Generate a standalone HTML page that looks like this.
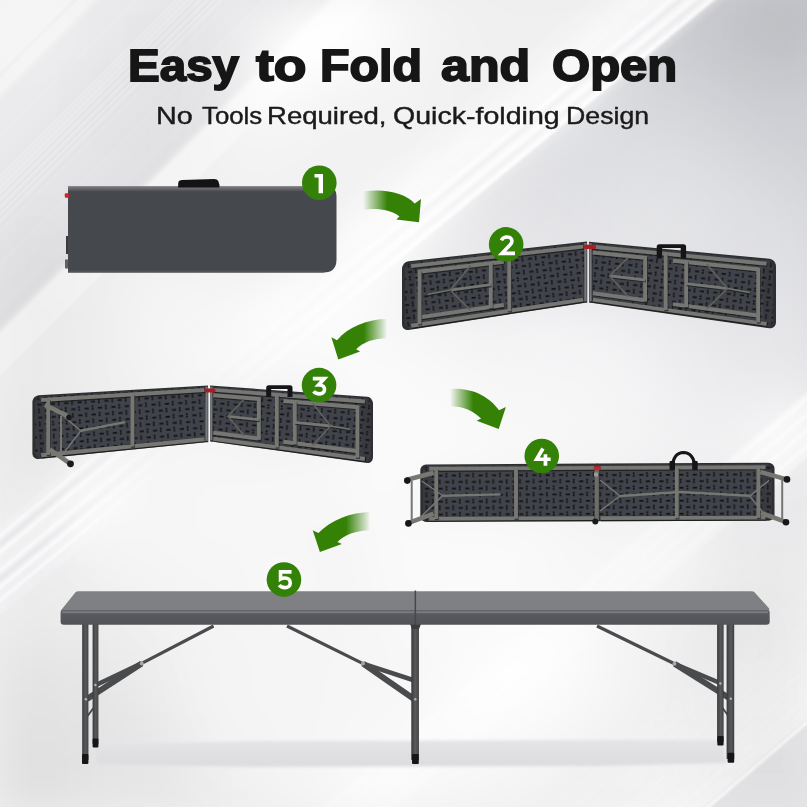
<!DOCTYPE html>
<html><head><meta charset="utf-8"><style>
html,body{margin:0;padding:0;width:807px;height:807px;overflow:hidden;background:#ececed}
svg{position:absolute;left:0;top:0}
.w{position:absolute;white-space:nowrap;font-family:"Liberation Sans",sans-serif;line-height:1;transform-origin:0 0}
.ti{font-size:44.8px;font-weight:bold;color:#161616;-webkit-text-stroke:1.8px #161616}
.dg{font-family:"Liberation Sans",sans-serif;font-weight:bold;font-size:27px;fill:#fff}
.su{font-size:23.4px;color:#1a1a1a;-webkit-text-stroke:0.4px #1a1a1a}
</style></head><body>
<svg width="807" height="807" viewBox="0 0 807 807">
<defs>
<linearGradient id="bg" x1="807" y1="0" x2="0" y2="807" gradientUnits="userSpaceOnUse">
<stop offset="0" stop-color="#cfd0d4"/>
<stop offset="0.35" stop-color="#e6e6e8"/>
<stop offset="0.6" stop-color="#f3f3f4"/>
<stop offset="1" stop-color="#f1f1f2"/>
</linearGradient>
<pattern id="tex1" width="13.4" height="13" patternUnits="userSpaceOnUse" patternTransform="rotate(-6.29)"><rect width="13.4" height="13" fill="#41434a"/><rect x="0.5" y="2.4" width="4.2" height="1.8" fill="#121317"/><rect x="7.5" y="0.8" width="1.8" height="1.9" fill="#121317"/><rect x="7.5" y="3.3" width="1.8" height="1.9" fill="#121317"/><rect x="7.2" y="8.9" width="4.2" height="1.8" fill="#121317"/><rect x="0.8" y="7.3" width="1.8" height="1.9" fill="#121317"/><rect x="0.8" y="9.8" width="1.8" height="1.9" fill="#121317"/></pattern>
<pattern id="rim1" width="13.4" height="13" patternUnits="userSpaceOnUse" patternTransform="rotate(-6.29)"><rect width="13.4" height="13" fill="#383a40"/><rect x="0.5" y="2.4" width="4.2" height="1.8" fill="#121317"/><rect x="7.5" y="0.8" width="1.8" height="1.9" fill="#121317"/><rect x="7.5" y="3.3" width="1.8" height="1.9" fill="#121317"/><rect x="7.2" y="8.9" width="4.2" height="1.8" fill="#121317"/><rect x="0.8" y="7.3" width="1.8" height="1.9" fill="#121317"/><rect x="0.8" y="9.8" width="1.8" height="1.9" fill="#121317"/></pattern>
<pattern id="tex2" width="13.4" height="13" patternUnits="userSpaceOnUse" patternTransform="rotate(5.38)"><rect width="13.4" height="13" fill="#41434a"/><rect x="0.5" y="2.4" width="4.2" height="1.8" fill="#121317"/><rect x="7.5" y="0.8" width="1.8" height="1.9" fill="#121317"/><rect x="7.5" y="3.3" width="1.8" height="1.9" fill="#121317"/><rect x="7.2" y="8.9" width="4.2" height="1.8" fill="#121317"/><rect x="0.8" y="7.3" width="1.8" height="1.9" fill="#121317"/><rect x="0.8" y="9.8" width="1.8" height="1.9" fill="#121317"/></pattern>
<pattern id="rim2" width="13.4" height="13" patternUnits="userSpaceOnUse" patternTransform="rotate(5.38)"><rect width="13.4" height="13" fill="#383a40"/><rect x="0.5" y="2.4" width="4.2" height="1.8" fill="#121317"/><rect x="7.5" y="0.8" width="1.8" height="1.9" fill="#121317"/><rect x="7.5" y="3.3" width="1.8" height="1.9" fill="#121317"/><rect x="7.2" y="8.9" width="4.2" height="1.8" fill="#121317"/><rect x="0.8" y="7.3" width="1.8" height="1.9" fill="#121317"/><rect x="0.8" y="9.8" width="1.8" height="1.9" fill="#121317"/></pattern>
<pattern id="tex3" width="13.4" height="13" patternUnits="userSpaceOnUse" patternTransform="rotate(-3.32)"><rect width="13.4" height="13" fill="#41434a"/><rect x="0.5" y="2.4" width="4.2" height="1.8" fill="#121317"/><rect x="7.5" y="0.8" width="1.8" height="1.9" fill="#121317"/><rect x="7.5" y="3.3" width="1.8" height="1.9" fill="#121317"/><rect x="7.2" y="8.9" width="4.2" height="1.8" fill="#121317"/><rect x="0.8" y="7.3" width="1.8" height="1.9" fill="#121317"/><rect x="0.8" y="9.8" width="1.8" height="1.9" fill="#121317"/></pattern>
<pattern id="rim3" width="13.4" height="13" patternUnits="userSpaceOnUse" patternTransform="rotate(-3.32)"><rect width="13.4" height="13" fill="#383a40"/><rect x="0.5" y="2.4" width="4.2" height="1.8" fill="#121317"/><rect x="7.5" y="0.8" width="1.8" height="1.9" fill="#121317"/><rect x="7.5" y="3.3" width="1.8" height="1.9" fill="#121317"/><rect x="7.2" y="8.9" width="4.2" height="1.8" fill="#121317"/><rect x="0.8" y="7.3" width="1.8" height="1.9" fill="#121317"/><rect x="0.8" y="9.8" width="1.8" height="1.9" fill="#121317"/></pattern>
<pattern id="tex4" width="13.4" height="13" patternUnits="userSpaceOnUse" patternTransform="rotate(4.07)"><rect width="13.4" height="13" fill="#41434a"/><rect x="0.5" y="2.4" width="4.2" height="1.8" fill="#121317"/><rect x="7.5" y="0.8" width="1.8" height="1.9" fill="#121317"/><rect x="7.5" y="3.3" width="1.8" height="1.9" fill="#121317"/><rect x="7.2" y="8.9" width="4.2" height="1.8" fill="#121317"/><rect x="0.8" y="7.3" width="1.8" height="1.9" fill="#121317"/><rect x="0.8" y="9.8" width="1.8" height="1.9" fill="#121317"/></pattern>
<pattern id="rim4" width="13.4" height="13" patternUnits="userSpaceOnUse" patternTransform="rotate(4.07)"><rect width="13.4" height="13" fill="#383a40"/><rect x="0.5" y="2.4" width="4.2" height="1.8" fill="#121317"/><rect x="7.5" y="0.8" width="1.8" height="1.9" fill="#121317"/><rect x="7.5" y="3.3" width="1.8" height="1.9" fill="#121317"/><rect x="7.2" y="8.9" width="4.2" height="1.8" fill="#121317"/><rect x="0.8" y="7.3" width="1.8" height="1.9" fill="#121317"/><rect x="0.8" y="9.8" width="1.8" height="1.9" fill="#121317"/></pattern>
<pattern id="tex5" width="13.4" height="13" patternUnits="userSpaceOnUse" patternTransform="rotate(-0.29)"><rect width="13.4" height="13" fill="#41434a"/><rect x="0.5" y="2.4" width="4.2" height="1.8" fill="#121317"/><rect x="7.5" y="0.8" width="1.8" height="1.9" fill="#121317"/><rect x="7.5" y="3.3" width="1.8" height="1.9" fill="#121317"/><rect x="7.2" y="8.9" width="4.2" height="1.8" fill="#121317"/><rect x="0.8" y="7.3" width="1.8" height="1.9" fill="#121317"/><rect x="0.8" y="9.8" width="1.8" height="1.9" fill="#121317"/></pattern>
<pattern id="rim5" width="13.4" height="13" patternUnits="userSpaceOnUse" patternTransform="rotate(-0.29)"><rect width="13.4" height="13" fill="#383a40"/><rect x="0.5" y="2.4" width="4.2" height="1.8" fill="#121317"/><rect x="7.5" y="0.8" width="1.8" height="1.9" fill="#121317"/><rect x="7.5" y="3.3" width="1.8" height="1.9" fill="#121317"/><rect x="7.2" y="8.9" width="4.2" height="1.8" fill="#121317"/><rect x="0.8" y="7.3" width="1.8" height="1.9" fill="#121317"/><rect x="0.8" y="9.8" width="1.8" height="1.9" fill="#121317"/></pattern>
<pattern id="tex6" width="13.4" height="13" patternUnits="userSpaceOnUse" patternTransform="rotate(-0.26)"><rect width="13.4" height="13" fill="#41434a"/><rect x="0.5" y="2.4" width="4.2" height="1.8" fill="#121317"/><rect x="7.5" y="0.8" width="1.8" height="1.9" fill="#121317"/><rect x="7.5" y="3.3" width="1.8" height="1.9" fill="#121317"/><rect x="7.2" y="8.9" width="4.2" height="1.8" fill="#121317"/><rect x="0.8" y="7.3" width="1.8" height="1.9" fill="#121317"/><rect x="0.8" y="9.8" width="1.8" height="1.9" fill="#121317"/></pattern>
<pattern id="rim6" width="13.4" height="13" patternUnits="userSpaceOnUse" patternTransform="rotate(-0.26)"><rect width="13.4" height="13" fill="#383a40"/><rect x="0.5" y="2.4" width="4.2" height="1.8" fill="#121317"/><rect x="7.5" y="0.8" width="1.8" height="1.9" fill="#121317"/><rect x="7.5" y="3.3" width="1.8" height="1.9" fill="#121317"/><rect x="7.2" y="8.9" width="4.2" height="1.8" fill="#121317"/><rect x="0.8" y="7.3" width="1.8" height="1.9" fill="#121317"/><rect x="0.8" y="9.8" width="1.8" height="1.9" fill="#121317"/></pattern>
<linearGradient id="fadeR" x1="0" y1="0" x2="1" y2="0"><stop offset="0" stop-color="#348105" stop-opacity="0"/><stop offset="0.1" stop-color="#348105" stop-opacity="0.25"/><stop offset="0.42" stop-color="#348105" stop-opacity="1"/><stop offset="1" stop-color="#348105"/></linearGradient>
<linearGradient id="fadeL" x1="1" y1="0" x2="0" y2="0"><stop offset="0" stop-color="#348105" stop-opacity="0"/><stop offset="0.1" stop-color="#348105" stop-opacity="0.25"/><stop offset="0.42" stop-color="#348105" stop-opacity="1"/><stop offset="1" stop-color="#348105"/></linearGradient>
<filter id="sb" x="-1500" y="-1500" width="4000" height="4000" filterUnits="userSpaceOnUse"><feGaussianBlur stdDeviation="1"/></filter>
<filter id="blur6" x="-20%" y="-200%" width="140%" height="500%"><feGaussianBlur stdDeviation="6"/></filter>
<linearGradient id="t1top" x1="0" y1="0" x2="0" y2="1"><stop offset="0" stop-color="#7c7e82"/><stop offset="1" stop-color="#4c4e52"/></linearGradient>
<linearGradient id="mgrad" x1="0" y1="0" x2="0" y2="1"><stop offset="0" stop-color="#000"/><stop offset="0.02" stop-color="#fff"/><stop offset="1" stop-color="#fff"/></linearGradient>
<radialGradient id="rgray" cx="807" cy="0" r="580" gradientUnits="userSpaceOnUse">
<stop offset="0" stop-color="#c5c6cb"/><stop offset="0.35" stop-color="#d5d6da"/><stop offset="0.7" stop-color="#e6e6e9"/><stop offset="1" stop-color="#efeff0"/></radialGradient>
<linearGradient id="band1" x1="0" y1="0" x2="0" y2="1"><stop offset="0" stop-color="#f6f6f7" stop-opacity="0"/><stop offset="0.4" stop-color="#f8f8f9" stop-opacity="0.8"/><stop offset="0.97" stop-color="#f7f7f8" stop-opacity="1"/><stop offset="1" stop-color="#f4f4f5" stop-opacity="0"/></linearGradient>
<linearGradient id="band2" x1="0" y1="0" x2="0" y2="1"><stop offset="0" stop-color="#e4e4e7" stop-opacity="0.3"/><stop offset="0.4" stop-color="#e2e2e5" stop-opacity="0.6"/><stop offset="0.97" stop-color="#dcdcdf" stop-opacity="0.8"/><stop offset="1" stop-color="#dcdcdf" stop-opacity="0"/></linearGradient>
<linearGradient id="band3" x1="0" y1="0" x2="0" y2="1"><stop offset="0" stop-color="#f7f7f8" stop-opacity="0"/><stop offset="1" stop-color="#f7f7f8" stop-opacity="0.9"/></linearGradient>
<linearGradient id="brm" x1="400" y1="0" x2="807" y2="0" gradientUnits="userSpaceOnUse"><stop offset="0" stop-color="#fff" stop-opacity="0.5"/><stop offset="0.7" stop-color="#fff" stop-opacity="0.55"/><stop offset="0.9" stop-color="#fff"/><stop offset="1" stop-color="#fff"/></linearGradient>
<mask id="mBR" maskUnits="userSpaceOnUse" x="0" y="0" width="807" height="807"><rect width="807" height="807" fill="url(#brm)"/></mask>
<linearGradient id="btop" x1="0" y1="591" x2="0" y2="611" gradientUnits="userSpaceOnUse"><stop offset="0" stop-color="#808185"/><stop offset="1" stop-color="#7e7f83"/></linearGradient>
<linearGradient id="bfront" x1="0" y1="610" x2="0" y2="625" gradientUnits="userSpaceOnUse"><stop offset="0" stop-color="#63666b"/><stop offset="0.35" stop-color="#57595d"/><stop offset="1" stop-color="#525357"/></linearGradient>
<linearGradient id="gBand" x1="720" y1="0" x2="220" y2="410" gradientUnits="userSpaceOnUse"><stop offset="0" stop-color="#fff"/><stop offset="0.6" stop-color="#fff"/><stop offset="1" stop-color="#fff" stop-opacity="0.2"/></linearGradient>
<mask id="mBand" maskUnits="userSpaceOnUse" x="0" y="0" width="807" height="807"><rect width="807" height="807" fill="url(#gBand)"/></mask>
<linearGradient id="gBL" x1="0" y1="0" x2="170" y2="0" gradientUnits="userSpaceOnUse"><stop offset="0" stop-color="#fff"/><stop offset="0.4" stop-color="#fff"/><stop offset="1" stop-color="#000"/></linearGradient>
<mask id="mBL" maskUnits="userSpaceOnUse" x="0" y="0" width="807" height="807"><rect width="807" height="807" fill="url(#gBL)"/></mask>
<linearGradient id="shg" x1="0" y1="740" x2="0" y2="768" gradientUnits="userSpaceOnUse"><stop offset="0" stop-color="#e4e4e6"/><stop offset="0.6" stop-color="#dfdfe1"/><stop offset="1" stop-color="#dcdcde"/></linearGradient>
<filter id="blur2" x="-10%" y="-50%" width="120%" height="200%"><feGaussianBlur stdDeviation="1.6"/></filter>
<linearGradient id="legg" x1="0" y1="0" x2="1" y2="0"><stop offset="0" stop-color="#36373a"/><stop offset="0.25" stop-color="#4a4b4d"/><stop offset="0.55" stop-color="#58595b"/><stop offset="0.85" stop-color="#4a4b4d"/><stop offset="1" stop-color="#343537"/></linearGradient>
</defs>
<rect width="807" height="807" fill="#efeff0"/>
<mask id="mRight" maskUnits="userSpaceOnUse" x="0" y="0" width="807" height="807">
<g transform="rotate(-39.5)"><rect x="-1200" y="440" width="3000" height="1200" fill="url(#mgrad)"/></g>
</mask>
<rect width="807" height="807" fill="url(#rgray)" mask="url(#mRight)"/>
<g mask="url(#mBand)"><g transform="rotate(-39.5)" filter="url(#sb)">
<rect x="-1200" y="370" width="3000" height="86" fill="url(#band1)"/>
<rect x="-1200" y="451" width="3000" height="3" fill="#ffffff" opacity="0.9"/>
<rect x="-1200" y="439" width="3000" height="3" fill="#ffffff" opacity="0.7"/>
<rect x="-1200" y="425" width="3000" height="3" fill="#ffffff" opacity="0.7"/>
<rect x="-1200" y="431" width="3000" height="4" fill="#dedee1" opacity="0.35"/>
<rect x="-1200" y="444" width="3000" height="4" fill="#dedee1" opacity="0.3"/>
</g></g>
<g mask="url(#mBL)"><g transform="rotate(-39.5)" filter="url(#sb)">
<rect x="-1200" y="405" width="3000" height="70" fill="#f6f6f7" opacity="0.5"/>
<rect x="-1200" y="412" width="3000" height="2.5" fill="#ffffff" opacity="0.95"/>
<rect x="-1200" y="425" width="3000" height="2.5" fill="#ffffff" opacity="0.95"/>
<rect x="-1200" y="439" width="3000" height="2.5" fill="#ffffff" opacity="0.95"/>
<rect x="-1200" y="452" width="3000" height="2.5" fill="#ffffff" opacity="0.9"/>
<rect x="-1200" y="462" width="3000" height="2.5" fill="#ffffff" opacity="0.9"/>
<rect x="-1200" y="418" width="3000" height="4" fill="#e2e2e5" opacity="0.5"/>
<rect x="-1200" y="445" width="3000" height="4" fill="#e2e2e5" opacity="0.5"/>
</g></g>
<g transform="rotate(-45)" filter="url(#sb)">
<rect x="-1200" y="0" width="3000" height="52" fill="#f5f5f6" opacity="0.8"/>
<rect x="-1200" y="56" width="3000" height="1" fill="#ffffff" opacity="0.9"/>
<rect x="-1200" y="59" width="3000" height="1" fill="#ffffff" opacity="0.9"/>
<rect x="-1200" y="62" width="3000" height="1" fill="#ffffff" opacity="0.9"/>
<rect x="-1200" y="65" width="3000" height="1" fill="#ffffff" opacity="0.9"/>
<rect x="-1200" y="70" width="3000" height="165" fill="url(#band2)"/>
<rect x="-1200" y="122" width="3000" height="37" fill="#d8d8dc" opacity="0.35"/>
<rect x="-1200" y="124" width="3000" height="1.2" fill="#ffffff" opacity="0.85"/>
<rect x="-1200" y="128" width="3000" height="1.2" fill="#ffffff" opacity="0.85"/>
<rect x="-1200" y="132" width="3000" height="1.2" fill="#ffffff" opacity="0.85"/>
<rect x="-1200" y="136" width="3000" height="1.2" fill="#ffffff" opacity="0.85"/>
<rect x="-1200" y="141" width="3000" height="1.2" fill="#ffffff" opacity="0.85"/>
<rect x="-1200" y="146" width="3000" height="1.2" fill="#ffffff" opacity="0.85"/>
<rect x="-1200" y="151" width="3000" height="1.2" fill="#ffffff" opacity="0.85"/>
<rect x="-1200" y="156" width="3000" height="1.2" fill="#ffffff" opacity="0.85"/>
<rect x="-1200" y="236" width="3000" height="30" fill="#f7f7f8" opacity="0.6"/>
</g>
<g mask="url(#mBR)">
<g transform="rotate(-40.5)" filter="url(#sb)">
<rect x="-1200" y="826" width="3000" height="2.5" fill="#ffffff" opacity="0.9"/>
<rect x="-1200" y="838" width="3000" height="2.5" fill="#ffffff" opacity="0.9"/>
<rect x="-1200" y="850" width="3000" height="2.5" fill="#ffffff" opacity="0.9"/>
<rect x="-1200" y="862" width="3000" height="2.5" fill="#ffffff" opacity="0.8"/>
<rect x="-1200" y="822" width="3000" height="50" fill="#f8f8f9" opacity="0.6"/>
</g>
</g>
<g transform="rotate(-40.5)" filter="url(#sb)">
<rect x="-1200" y="960" width="3000" height="110" fill="url(#band3)"/>
<rect x="-1200" y="1072" width="3000" height="3" fill="#ffffff" opacity="0.9"/>
<rect x="-1200" y="1075" width="3000" height="200" fill="#e2e2e5" opacity="0.7"/>
</g>

<filter id="cblur" x="-50" y="-50" width="907" height="907" filterUnits="userSpaceOnUse"><feGaussianBlur stdDeviation="22"/></filter>
<g filter="url(#cblur)"><rect x="0" y="0" width="30" height="30" fill="#fff" fill-opacity="0.241"/><rect x="30" y="0" width="30" height="30" fill="#fff" fill-opacity="0.219"/><rect x="60" y="0" width="30" height="30" fill="#fff" fill-opacity="0.078"/><rect x="210" y="0" width="30" height="30" fill="#fff" fill-opacity="0.237"/><rect x="240" y="0" width="30" height="30" fill="#fff" fill-opacity="0.468"/><rect x="270" y="0" width="30" height="30" fill="#fff" fill-opacity="0.518"/><rect x="300" y="0" width="30" height="30" fill="#fff" fill-opacity="1.000"/><rect x="330" y="0" width="30" height="30" fill="#fff" fill-opacity="1.000"/><rect x="360" y="0" width="30" height="30" fill="#fff" fill-opacity="1.000"/><rect x="390" y="0" width="30" height="30" fill="#fff" fill-opacity="0.533"/><rect x="420" y="0" width="30" height="30" fill="#fff" fill-opacity="0.282"/><rect x="450" y="0" width="30" height="30" fill="#fff" fill-opacity="0.151"/><rect x="480" y="0" width="30" height="30" fill="#fff" fill-opacity="0.082"/><rect x="510" y="0" width="30" height="30" fill="#fff" fill-opacity="0.065"/><rect x="540" y="0" width="30" height="30" fill="#fff" fill-opacity="0.067"/><rect x="570" y="0" width="30" height="30" fill="#fff" fill-opacity="0.089"/><rect x="600" y="0" width="30" height="30" fill="#fff" fill-opacity="0.089"/><rect x="0" y="30" width="30" height="30" fill="#fff" fill-opacity="0.227"/><rect x="30" y="30" width="30" height="30" fill="#fff" fill-opacity="0.192"/><rect x="210" y="30" width="30" height="30" fill="#fff" fill-opacity="0.200"/><rect x="240" y="30" width="30" height="30" fill="#fff" fill-opacity="0.401"/><rect x="270" y="30" width="30" height="30" fill="#fff" fill-opacity="1.000"/><rect x="300" y="30" width="30" height="30" fill="#fff" fill-opacity="1.000"/><rect x="330" y="30" width="30" height="30" fill="#fff" fill-opacity="1.000"/><rect x="360" y="30" width="30" height="30" fill="#fff" fill-opacity="0.639"/><rect x="390" y="30" width="30" height="30" fill="#fff" fill-opacity="0.435"/><rect x="420" y="30" width="30" height="30" fill="#fff" fill-opacity="0.243"/><rect x="450" y="30" width="30" height="30" fill="#fff" fill-opacity="0.149"/><rect x="480" y="30" width="30" height="30" fill="#fff" fill-opacity="0.086"/><rect x="510" y="30" width="30" height="30" fill="#fff" fill-opacity="0.077"/><rect x="540" y="30" width="30" height="30" fill="#fff" fill-opacity="0.094"/><rect x="570" y="30" width="30" height="30" fill="#fff" fill-opacity="0.130"/><rect x="600" y="30" width="30" height="30" fill="#fff" fill-opacity="0.235"/><rect x="0" y="60" width="30" height="30" fill="#fff" fill-opacity="0.129"/><rect x="30" y="60" width="30" height="30" fill="#fff" fill-opacity="0.033"/><rect x="180" y="60" width="30" height="30" fill="#fff" fill-opacity="0.019"/><rect x="210" y="60" width="30" height="30" fill="#fff" fill-opacity="0.152"/><rect x="240" y="60" width="30" height="30" fill="#fff" fill-opacity="0.819"/><rect x="270" y="60" width="30" height="30" fill="#fff" fill-opacity="1.000"/><rect x="300" y="60" width="30" height="30" fill="#fff" fill-opacity="0.670"/><rect x="330" y="60" width="30" height="30" fill="#fff" fill-opacity="0.554"/><rect x="360" y="60" width="30" height="30" fill="#fff" fill-opacity="0.441"/><rect x="390" y="60" width="30" height="30" fill="#fff" fill-opacity="0.345"/><rect x="420" y="60" width="30" height="30" fill="#fff" fill-opacity="0.209"/><rect x="450" y="60" width="30" height="30" fill="#fff" fill-opacity="0.141"/><rect x="480" y="60" width="30" height="30" fill="#fff" fill-opacity="0.108"/><rect x="510" y="60" width="30" height="30" fill="#fff" fill-opacity="0.137"/><rect x="540" y="60" width="30" height="30" fill="#fff" fill-opacity="0.170"/><rect x="570" y="60" width="30" height="30" fill="#fff" fill-opacity="0.187"/><rect x="600" y="60" width="30" height="30" fill="#fff" fill-opacity="0.260"/><rect x="630" y="60" width="30" height="30" fill="#fff" fill-opacity="0.033"/><rect x="660" y="60" width="30" height="30" fill="#fff" fill-opacity="0.013"/><rect x="180" y="90" width="30" height="30" fill="#fff" fill-opacity="0.028"/><rect x="210" y="90" width="30" height="30" fill="#fff" fill-opacity="0.316"/><rect x="240" y="90" width="30" height="30" fill="#fff" fill-opacity="0.598"/><rect x="270" y="90" width="30" height="30" fill="#fff" fill-opacity="0.660"/><rect x="300" y="90" width="30" height="30" fill="#fff" fill-opacity="0.376"/><rect x="330" y="90" width="30" height="30" fill="#fff" fill-opacity="0.296"/><rect x="360" y="90" width="30" height="30" fill="#fff" fill-opacity="0.269"/><rect x="390" y="90" width="30" height="30" fill="#fff" fill-opacity="0.246"/><rect x="420" y="90" width="30" height="30" fill="#fff" fill-opacity="0.186"/><rect x="450" y="90" width="30" height="30" fill="#fff" fill-opacity="0.151"/><rect x="480" y="90" width="30" height="30" fill="#fff" fill-opacity="0.165"/><rect x="510" y="90" width="30" height="30" fill="#fff" fill-opacity="0.172"/><rect x="540" y="90" width="30" height="30" fill="#fff" fill-opacity="0.380"/><rect x="570" y="90" width="30" height="30" fill="#fff" fill-opacity="0.498"/><rect x="600" y="90" width="30" height="30" fill="#fff" fill-opacity="0.075"/><rect x="630" y="90" width="30" height="30" fill="#fff" fill-opacity="0.081"/><rect x="660" y="90" width="30" height="30" fill="#fff" fill-opacity="0.079"/><rect x="690" y="90" width="30" height="30" fill="#fff" fill-opacity="0.046"/><rect x="720" y="90" width="30" height="30" fill="#fff" fill-opacity="0.011"/><rect x="180" y="120" width="30" height="30" fill="#fff" fill-opacity="0.085"/><rect x="210" y="120" width="30" height="30" fill="#fff" fill-opacity="0.227"/><rect x="240" y="120" width="30" height="30" fill="#fff" fill-opacity="0.348"/><rect x="270" y="120" width="30" height="30" fill="#fff" fill-opacity="0.300"/><rect x="300" y="120" width="30" height="30" fill="#fff" fill-opacity="0.238"/><rect x="330" y="120" width="30" height="30" fill="#fff" fill-opacity="0.202"/><rect x="360" y="120" width="30" height="30" fill="#fff" fill-opacity="0.205"/><rect x="390" y="120" width="30" height="30" fill="#fff" fill-opacity="0.200"/><rect x="420" y="120" width="30" height="30" fill="#fff" fill-opacity="0.199"/><rect x="450" y="120" width="30" height="30" fill="#fff" fill-opacity="0.194"/><rect x="480" y="120" width="30" height="30" fill="#fff" fill-opacity="0.209"/><rect x="510" y="120" width="30" height="30" fill="#fff" fill-opacity="0.326"/><rect x="540" y="120" width="30" height="30" fill="#fff" fill-opacity="0.285"/><rect x="570" y="120" width="30" height="30" fill="#fff" fill-opacity="0.080"/><rect x="600" y="120" width="30" height="30" fill="#fff" fill-opacity="0.111"/><rect x="630" y="120" width="30" height="30" fill="#fff" fill-opacity="0.153"/><rect x="660" y="120" width="30" height="30" fill="#fff" fill-opacity="0.153"/><rect x="690" y="120" width="30" height="30" fill="#fff" fill-opacity="0.119"/><rect x="720" y="120" width="30" height="30" fill="#fff" fill-opacity="0.059"/><rect x="750" y="120" width="30" height="30" fill="#fff" fill-opacity="0.018"/><rect x="180" y="150" width="30" height="30" fill="#fff" fill-opacity="0.104"/><rect x="210" y="150" width="30" height="30" fill="#fff" fill-opacity="0.221"/><rect x="240" y="150" width="30" height="30" fill="#fff" fill-opacity="0.256"/><rect x="270" y="150" width="30" height="30" fill="#fff" fill-opacity="0.247"/><rect x="300" y="150" width="30" height="30" fill="#fff" fill-opacity="0.212"/><rect x="330" y="150" width="30" height="30" fill="#fff" fill-opacity="0.195"/><rect x="360" y="150" width="30" height="30" fill="#fff" fill-opacity="0.208"/><rect x="390" y="150" width="30" height="30" fill="#fff" fill-opacity="0.264"/><rect x="420" y="150" width="30" height="30" fill="#fff" fill-opacity="0.254"/><rect x="450" y="150" width="30" height="30" fill="#fff" fill-opacity="0.321"/><rect x="480" y="150" width="30" height="30" fill="#fff" fill-opacity="0.268"/><rect x="510" y="150" width="30" height="30" fill="#fff" fill-opacity="0.167"/><rect x="540" y="150" width="30" height="30" fill="#fff" fill-opacity="0.055"/><rect x="570" y="150" width="30" height="30" fill="#fff" fill-opacity="0.100"/><rect x="600" y="150" width="30" height="30" fill="#fff" fill-opacity="0.164"/><rect x="630" y="150" width="30" height="30" fill="#fff" fill-opacity="0.203"/><rect x="660" y="150" width="30" height="30" fill="#fff" fill-opacity="0.218"/><rect x="690" y="150" width="30" height="30" fill="#fff" fill-opacity="0.201"/><rect x="720" y="150" width="30" height="30" fill="#fff" fill-opacity="0.142"/><rect x="750" y="150" width="30" height="30" fill="#fff" fill-opacity="0.075"/><rect x="780" y="150" width="30" height="30" fill="#fff" fill-opacity="0.051"/><rect x="150" y="180" width="30" height="30" fill="#fff" fill-opacity="0.079"/><rect x="180" y="180" width="30" height="30" fill="#fff" fill-opacity="0.010"/><rect x="210" y="180" width="30" height="30" fill="#fff" fill-opacity="0.164"/><rect x="240" y="180" width="30" height="30" fill="#fff" fill-opacity="0.242"/><rect x="270" y="180" width="30" height="30" fill="#fff" fill-opacity="0.242"/><rect x="300" y="180" width="30" height="30" fill="#fff" fill-opacity="0.024"/><rect x="330" y="180" width="30" height="30" fill="#fff" fill-opacity="0.232"/><rect x="360" y="180" width="30" height="30" fill="#fff" fill-opacity="0.242"/><rect x="390" y="180" width="30" height="30" fill="#fff" fill-opacity="0.350"/><rect x="420" y="180" width="30" height="30" fill="#fff" fill-opacity="0.490"/><rect x="450" y="180" width="30" height="30" fill="#fff" fill-opacity="0.324"/><rect x="480" y="180" width="30" height="30" fill="#fff" fill-opacity="0.091"/><rect x="510" y="180" width="30" height="30" fill="#fff" fill-opacity="0.042"/><rect x="540" y="180" width="30" height="30" fill="#fff" fill-opacity="0.065"/><rect x="570" y="180" width="30" height="30" fill="#fff" fill-opacity="0.124"/><rect x="600" y="180" width="30" height="30" fill="#fff" fill-opacity="0.201"/><rect x="630" y="180" width="30" height="30" fill="#fff" fill-opacity="0.239"/><rect x="660" y="180" width="30" height="30" fill="#fff" fill-opacity="0.256"/><rect x="690" y="180" width="30" height="30" fill="#fff" fill-opacity="0.247"/><rect x="720" y="180" width="30" height="30" fill="#fff" fill-opacity="0.202"/><rect x="750" y="180" width="30" height="30" fill="#fff" fill-opacity="0.147"/><rect x="780" y="180" width="30" height="30" fill="#fff" fill-opacity="0.119"/><rect x="120" y="210" width="30" height="30" fill="#fff" fill-opacity="0.005"/><rect x="150" y="210" width="30" height="30" fill="#fff" fill-opacity="0.014"/><rect x="180" y="210" width="30" height="30" fill="#fff" fill-opacity="0.021"/><rect x="210" y="210" width="30" height="30" fill="#fff" fill-opacity="0.024"/><rect x="240" y="210" width="30" height="30" fill="#fff" fill-opacity="0.022"/><rect x="270" y="210" width="30" height="30" fill="#fff" fill-opacity="0.024"/><rect x="300" y="210" width="30" height="30" fill="#fff" fill-opacity="0.022"/><rect x="330" y="210" width="30" height="30" fill="#fff" fill-opacity="0.366"/><rect x="360" y="210" width="30" height="30" fill="#fff" fill-opacity="0.433"/><rect x="390" y="210" width="30" height="30" fill="#fff" fill-opacity="0.616"/><rect x="420" y="210" width="30" height="30" fill="#fff" fill-opacity="0.587"/><rect x="450" y="210" width="30" height="30" fill="#fff" fill-opacity="0.078"/><rect x="480" y="210" width="30" height="30" fill="#fff" fill-opacity="0.058"/><rect x="510" y="210" width="30" height="30" fill="#fff" fill-opacity="0.064"/><rect x="540" y="210" width="30" height="30" fill="#fff" fill-opacity="0.102"/><rect x="570" y="210" width="30" height="30" fill="#fff" fill-opacity="0.169"/><rect x="600" y="210" width="30" height="30" fill="#fff" fill-opacity="0.228"/><rect x="630" y="210" width="30" height="30" fill="#fff" fill-opacity="0.258"/><rect x="660" y="210" width="30" height="30" fill="#fff" fill-opacity="0.266"/><rect x="690" y="210" width="30" height="30" fill="#fff" fill-opacity="0.250"/><rect x="720" y="210" width="30" height="30" fill="#fff" fill-opacity="0.212"/><rect x="750" y="210" width="30" height="30" fill="#fff" fill-opacity="0.168"/><rect x="780" y="210" width="30" height="30" fill="#fff" fill-opacity="0.159"/><rect x="120" y="240" width="30" height="30" fill="#fff" fill-opacity="0.012"/><rect x="150" y="240" width="30" height="30" fill="#fff" fill-opacity="0.024"/><rect x="180" y="240" width="30" height="30" fill="#fff" fill-opacity="0.030"/><rect x="210" y="240" width="30" height="30" fill="#fff" fill-opacity="0.032"/><rect x="240" y="240" width="30" height="30" fill="#fff" fill-opacity="0.032"/><rect x="270" y="240" width="30" height="30" fill="#fff" fill-opacity="0.026"/><rect x="300" y="240" width="30" height="30" fill="#fff" fill-opacity="0.025"/><rect x="330" y="240" width="30" height="30" fill="#fff" fill-opacity="0.576"/><rect x="360" y="240" width="30" height="30" fill="#fff" fill-opacity="0.727"/><rect x="390" y="240" width="30" height="30" fill="#fff" fill-opacity="0.917"/><rect x="420" y="240" width="30" height="30" fill="#fff" fill-opacity="0.167"/><rect x="450" y="240" width="30" height="30" fill="#fff" fill-opacity="0.126"/><rect x="480" y="240" width="30" height="30" fill="#fff" fill-opacity="0.116"/><rect x="510" y="240" width="30" height="30" fill="#fff" fill-opacity="0.126"/><rect x="540" y="240" width="30" height="30" fill="#fff" fill-opacity="0.171"/><rect x="570" y="240" width="30" height="30" fill="#fff" fill-opacity="0.087"/><rect x="600" y="240" width="30" height="30" fill="#fff" fill-opacity="0.250"/><rect x="630" y="240" width="30" height="30" fill="#fff" fill-opacity="0.259"/><rect x="660" y="240" width="30" height="30" fill="#fff" fill-opacity="0.249"/><rect x="690" y="240" width="30" height="30" fill="#fff" fill-opacity="0.228"/><rect x="720" y="240" width="30" height="30" fill="#fff" fill-opacity="0.196"/><rect x="750" y="240" width="30" height="30" fill="#fff" fill-opacity="0.174"/><rect x="780" y="240" width="30" height="30" fill="#fff" fill-opacity="0.171"/><rect x="120" y="270" width="30" height="30" fill="#fff" fill-opacity="0.206"/><rect x="150" y="270" width="30" height="30" fill="#fff" fill-opacity="0.348"/><rect x="180" y="270" width="30" height="30" fill="#fff" fill-opacity="0.395"/><rect x="210" y="270" width="30" height="30" fill="#fff" fill-opacity="0.403"/><rect x="240" y="270" width="30" height="30" fill="#fff" fill-opacity="0.461"/><rect x="270" y="270" width="30" height="30" fill="#fff" fill-opacity="0.589"/><rect x="300" y="270" width="30" height="30" fill="#fff" fill-opacity="0.592"/><rect x="330" y="270" width="30" height="30" fill="#fff" fill-opacity="0.765"/><rect x="360" y="270" width="30" height="30" fill="#fff" fill-opacity="0.874"/><rect x="390" y="270" width="30" height="30" fill="#fff" fill-opacity="0.308"/><rect x="420" y="270" width="30" height="30" fill="#fff" fill-opacity="0.035"/><rect x="450" y="270" width="30" height="30" fill="#fff" fill-opacity="0.033"/><rect x="480" y="270" width="30" height="30" fill="#fff" fill-opacity="0.040"/><rect x="510" y="270" width="30" height="30" fill="#fff" fill-opacity="0.034"/><rect x="540" y="270" width="30" height="30" fill="#fff" fill-opacity="0.043"/><rect x="570" y="270" width="30" height="30" fill="#fff" fill-opacity="0.072"/><rect x="600" y="270" width="30" height="30" fill="#fff" fill-opacity="0.072"/><rect x="630" y="270" width="30" height="30" fill="#fff" fill-opacity="0.067"/><rect x="660" y="270" width="30" height="30" fill="#fff" fill-opacity="0.062"/><rect x="690" y="270" width="30" height="30" fill="#fff" fill-opacity="0.047"/><rect x="720" y="270" width="30" height="30" fill="#fff" fill-opacity="0.038"/><rect x="750" y="270" width="30" height="30" fill="#fff" fill-opacity="0.180"/><rect x="780" y="270" width="30" height="30" fill="#fff" fill-opacity="0.181"/><rect x="120" y="300" width="30" height="30" fill="#fff" fill-opacity="0.252"/><rect x="150" y="300" width="30" height="30" fill="#fff" fill-opacity="0.385"/><rect x="180" y="300" width="30" height="30" fill="#fff" fill-opacity="0.415"/><rect x="210" y="300" width="30" height="30" fill="#fff" fill-opacity="0.476"/><rect x="240" y="300" width="30" height="30" fill="#fff" fill-opacity="0.560"/><rect x="270" y="300" width="30" height="30" fill="#fff" fill-opacity="0.712"/><rect x="300" y="300" width="30" height="30" fill="#fff" fill-opacity="0.769"/><rect x="330" y="300" width="30" height="30" fill="#fff" fill-opacity="0.891"/><rect x="360" y="300" width="30" height="30" fill="#fff" fill-opacity="0.538"/><rect x="390" y="300" width="30" height="30" fill="#fff" fill-opacity="0.516"/><rect x="420" y="300" width="30" height="30" fill="#fff" fill-opacity="0.451"/><rect x="450" y="300" width="30" height="30" fill="#fff" fill-opacity="0.401"/><rect x="480" y="300" width="30" height="30" fill="#fff" fill-opacity="0.331"/><rect x="510" y="300" width="30" height="30" fill="#fff" fill-opacity="0.439"/><rect x="540" y="300" width="30" height="30" fill="#fff" fill-opacity="0.469"/><rect x="570" y="300" width="30" height="30" fill="#fff" fill-opacity="0.454"/><rect x="600" y="300" width="30" height="30" fill="#fff" fill-opacity="0.426"/><rect x="630" y="300" width="30" height="30" fill="#fff" fill-opacity="0.367"/><rect x="660" y="300" width="30" height="30" fill="#fff" fill-opacity="0.298"/><rect x="690" y="300" width="30" height="30" fill="#fff" fill-opacity="0.243"/><rect x="720" y="300" width="30" height="30" fill="#fff" fill-opacity="0.206"/><rect x="750" y="300" width="30" height="30" fill="#fff" fill-opacity="0.194"/><rect x="780" y="300" width="30" height="30" fill="#fff" fill-opacity="0.193"/><rect x="120" y="330" width="30" height="30" fill="#fff" fill-opacity="0.259"/><rect x="150" y="330" width="30" height="30" fill="#fff" fill-opacity="0.386"/><rect x="180" y="330" width="30" height="30" fill="#fff" fill-opacity="0.475"/><rect x="210" y="330" width="30" height="30" fill="#fff" fill-opacity="0.515"/><rect x="240" y="330" width="30" height="30" fill="#fff" fill-opacity="0.624"/><rect x="270" y="330" width="30" height="30" fill="#fff" fill-opacity="0.762"/><rect x="300" y="330" width="30" height="30" fill="#fff" fill-opacity="0.637"/><rect x="330" y="330" width="30" height="30" fill="#fff" fill-opacity="0.647"/><rect x="360" y="330" width="30" height="30" fill="#fff" fill-opacity="0.644"/><rect x="390" y="330" width="30" height="30" fill="#fff" fill-opacity="0.616"/><rect x="420" y="330" width="30" height="30" fill="#fff" fill-opacity="0.577"/><rect x="450" y="330" width="30" height="30" fill="#fff" fill-opacity="0.539"/><rect x="480" y="330" width="30" height="30" fill="#fff" fill-opacity="0.477"/><rect x="510" y="330" width="30" height="30" fill="#fff" fill-opacity="0.537"/><rect x="540" y="330" width="30" height="30" fill="#fff" fill-opacity="0.548"/><rect x="570" y="330" width="30" height="30" fill="#fff" fill-opacity="0.540"/><rect x="600" y="330" width="30" height="30" fill="#fff" fill-opacity="0.507"/><rect x="630" y="330" width="30" height="30" fill="#fff" fill-opacity="0.430"/><rect x="660" y="330" width="30" height="30" fill="#fff" fill-opacity="0.333"/><rect x="690" y="330" width="30" height="30" fill="#fff" fill-opacity="0.259"/><rect x="720" y="330" width="30" height="30" fill="#fff" fill-opacity="0.214"/><rect x="750" y="330" width="30" height="30" fill="#fff" fill-opacity="0.193"/><rect x="780" y="330" width="30" height="30" fill="#fff" fill-opacity="0.197"/><rect x="120" y="360" width="30" height="30" fill="#fff" fill-opacity="0.233"/><rect x="150" y="360" width="30" height="30" fill="#fff" fill-opacity="0.384"/><rect x="180" y="360" width="30" height="30" fill="#fff" fill-opacity="0.461"/><rect x="210" y="360" width="30" height="30" fill="#fff" fill-opacity="0.515"/><rect x="240" y="360" width="30" height="30" fill="#fff" fill-opacity="0.591"/><rect x="270" y="360" width="30" height="30" fill="#fff" fill-opacity="0.544"/><rect x="300" y="360" width="30" height="30" fill="#fff" fill-opacity="0.613"/><rect x="330" y="360" width="30" height="30" fill="#fff" fill-opacity="0.684"/><rect x="360" y="360" width="30" height="30" fill="#fff" fill-opacity="0.710"/><rect x="390" y="360" width="30" height="30" fill="#fff" fill-opacity="0.672"/><rect x="420" y="360" width="30" height="30" fill="#fff" fill-opacity="0.632"/><rect x="450" y="360" width="30" height="30" fill="#fff" fill-opacity="0.597"/><rect x="480" y="360" width="30" height="30" fill="#fff" fill-opacity="0.583"/><rect x="510" y="360" width="30" height="30" fill="#fff" fill-opacity="0.588"/><rect x="540" y="360" width="30" height="30" fill="#fff" fill-opacity="0.591"/><rect x="570" y="360" width="30" height="30" fill="#fff" fill-opacity="0.582"/><rect x="600" y="360" width="30" height="30" fill="#fff" fill-opacity="0.551"/><rect x="630" y="360" width="30" height="30" fill="#fff" fill-opacity="0.477"/><rect x="660" y="360" width="30" height="30" fill="#fff" fill-opacity="0.363"/><rect x="690" y="360" width="30" height="30" fill="#fff" fill-opacity="0.309"/><rect x="720" y="360" width="30" height="30" fill="#fff" fill-opacity="0.241"/><rect x="750" y="360" width="30" height="30" fill="#fff" fill-opacity="0.217"/><rect x="780" y="360" width="30" height="30" fill="#fff" fill-opacity="0.219"/><rect x="120" y="390" width="30" height="30" fill="#fff" fill-opacity="0.025"/><rect x="150" y="390" width="30" height="30" fill="#fff" fill-opacity="0.039"/><rect x="180" y="390" width="30" height="30" fill="#fff" fill-opacity="0.046"/><rect x="210" y="390" width="30" height="30" fill="#fff" fill-opacity="0.050"/><rect x="240" y="390" width="30" height="30" fill="#fff" fill-opacity="0.054"/><rect x="270" y="390" width="30" height="30" fill="#fff" fill-opacity="0.055"/><rect x="300" y="390" width="30" height="30" fill="#fff" fill-opacity="0.074"/><rect x="330" y="390" width="30" height="30" fill="#fff" fill-opacity="0.695"/><rect x="360" y="390" width="30" height="30" fill="#fff" fill-opacity="0.714"/><rect x="390" y="390" width="30" height="30" fill="#fff" fill-opacity="0.718"/><rect x="420" y="390" width="30" height="30" fill="#fff" fill-opacity="0.674"/><rect x="450" y="390" width="30" height="30" fill="#fff" fill-opacity="0.637"/><rect x="480" y="390" width="30" height="30" fill="#fff" fill-opacity="0.587"/><rect x="510" y="390" width="30" height="30" fill="#fff" fill-opacity="0.614"/><rect x="540" y="390" width="30" height="30" fill="#fff" fill-opacity="0.609"/><rect x="570" y="390" width="30" height="30" fill="#fff" fill-opacity="0.624"/><rect x="600" y="390" width="30" height="30" fill="#fff" fill-opacity="0.578"/><rect x="630" y="390" width="30" height="30" fill="#fff" fill-opacity="0.465"/><rect x="660" y="390" width="30" height="30" fill="#fff" fill-opacity="0.382"/><rect x="690" y="390" width="30" height="30" fill="#fff" fill-opacity="0.348"/><rect x="720" y="390" width="30" height="30" fill="#fff" fill-opacity="0.306"/><rect x="750" y="390" width="30" height="30" fill="#fff" fill-opacity="0.259"/><rect x="780" y="390" width="30" height="30" fill="#fff" fill-opacity="0.635"/><rect x="90" y="420" width="30" height="30" fill="#fff" fill-opacity="0.010"/><rect x="120" y="420" width="30" height="30" fill="#fff" fill-opacity="0.030"/><rect x="150" y="420" width="30" height="30" fill="#fff" fill-opacity="0.338"/><rect x="180" y="420" width="30" height="30" fill="#fff" fill-opacity="0.414"/><rect x="210" y="420" width="30" height="30" fill="#fff" fill-opacity="0.446"/><rect x="240" y="420" width="30" height="30" fill="#fff" fill-opacity="0.055"/><rect x="270" y="420" width="30" height="30" fill="#fff" fill-opacity="0.052"/><rect x="300" y="420" width="30" height="30" fill="#fff" fill-opacity="0.074"/><rect x="330" y="420" width="30" height="30" fill="#fff" fill-opacity="0.080"/><rect x="360" y="420" width="30" height="30" fill="#fff" fill-opacity="0.710"/><rect x="390" y="420" width="30" height="30" fill="#fff" fill-opacity="0.715"/><rect x="420" y="420" width="30" height="30" fill="#fff" fill-opacity="0.714"/><rect x="450" y="420" width="30" height="30" fill="#fff" fill-opacity="0.672"/><rect x="480" y="420" width="30" height="30" fill="#fff" fill-opacity="0.628"/><rect x="510" y="420" width="30" height="30" fill="#fff" fill-opacity="0.619"/><rect x="540" y="420" width="30" height="30" fill="#fff" fill-opacity="0.600"/><rect x="570" y="420" width="30" height="30" fill="#fff" fill-opacity="0.599"/><rect x="600" y="420" width="30" height="30" fill="#fff" fill-opacity="0.534"/><rect x="630" y="420" width="30" height="30" fill="#fff" fill-opacity="0.456"/><rect x="660" y="420" width="30" height="30" fill="#fff" fill-opacity="0.388"/><rect x="690" y="420" width="30" height="30" fill="#fff" fill-opacity="0.379"/><rect x="720" y="420" width="30" height="30" fill="#fff" fill-opacity="0.341"/><rect x="750" y="420" width="30" height="30" fill="#fff" fill-opacity="0.764"/><rect x="780" y="420" width="30" height="30" fill="#fff" fill-opacity="0.621"/><rect x="90" y="450" width="30" height="30" fill="#fff" fill-opacity="0.391"/><rect x="120" y="450" width="30" height="30" fill="#fff" fill-opacity="0.493"/><rect x="150" y="450" width="30" height="30" fill="#fff" fill-opacity="0.463"/><rect x="180" y="450" width="30" height="30" fill="#fff" fill-opacity="0.450"/><rect x="210" y="450" width="30" height="30" fill="#fff" fill-opacity="0.469"/><rect x="240" y="450" width="30" height="30" fill="#fff" fill-opacity="0.486"/><rect x="270" y="450" width="30" height="30" fill="#fff" fill-opacity="0.519"/><rect x="300" y="450" width="30" height="30" fill="#fff" fill-opacity="0.565"/><rect x="330" y="450" width="30" height="30" fill="#fff" fill-opacity="0.670"/><rect x="360" y="450" width="30" height="30" fill="#fff" fill-opacity="0.699"/><rect x="390" y="450" width="30" height="30" fill="#fff" fill-opacity="0.706"/><rect x="420" y="450" width="30" height="30" fill="#fff" fill-opacity="0.705"/><rect x="450" y="450" width="30" height="30" fill="#fff" fill-opacity="0.701"/><rect x="480" y="450" width="30" height="30" fill="#fff" fill-opacity="0.655"/><rect x="510" y="450" width="30" height="30" fill="#fff" fill-opacity="0.581"/><rect x="540" y="450" width="30" height="30" fill="#fff" fill-opacity="0.566"/><rect x="570" y="450" width="30" height="30" fill="#fff" fill-opacity="0.537"/><rect x="600" y="450" width="30" height="30" fill="#fff" fill-opacity="0.463"/><rect x="630" y="450" width="30" height="30" fill="#fff" fill-opacity="0.393"/><rect x="660" y="450" width="30" height="30" fill="#fff" fill-opacity="0.365"/><rect x="690" y="450" width="30" height="30" fill="#fff" fill-opacity="0.327"/><rect x="720" y="450" width="30" height="30" fill="#fff" fill-opacity="0.458"/><rect x="750" y="450" width="30" height="30" fill="#fff" fill-opacity="0.447"/><rect x="780" y="450" width="30" height="30" fill="#fff" fill-opacity="0.265"/><rect x="60" y="480" width="30" height="30" fill="#fff" fill-opacity="0.374"/><rect x="90" y="480" width="30" height="30" fill="#fff" fill-opacity="0.618"/><rect x="120" y="480" width="30" height="30" fill="#fff" fill-opacity="0.527"/><rect x="150" y="480" width="30" height="30" fill="#fff" fill-opacity="0.438"/><rect x="180" y="480" width="30" height="30" fill="#fff" fill-opacity="0.480"/><rect x="210" y="480" width="30" height="30" fill="#fff" fill-opacity="0.485"/><rect x="240" y="480" width="30" height="30" fill="#fff" fill-opacity="0.487"/><rect x="270" y="480" width="30" height="30" fill="#fff" fill-opacity="0.511"/><rect x="300" y="480" width="30" height="30" fill="#fff" fill-opacity="0.484"/><rect x="330" y="480" width="30" height="30" fill="#fff" fill-opacity="0.584"/><rect x="360" y="480" width="30" height="30" fill="#fff" fill-opacity="0.679"/><rect x="390" y="480" width="30" height="30" fill="#fff" fill-opacity="0.692"/><rect x="420" y="480" width="30" height="30" fill="#fff" fill-opacity="0.081"/><rect x="450" y="480" width="30" height="30" fill="#fff" fill-opacity="0.060"/><rect x="480" y="480" width="30" height="30" fill="#fff" fill-opacity="0.058"/><rect x="510" y="480" width="30" height="30" fill="#fff" fill-opacity="0.074"/><rect x="540" y="480" width="30" height="30" fill="#fff" fill-opacity="0.051"/><rect x="570" y="480" width="30" height="30" fill="#fff" fill-opacity="0.054"/><rect x="600" y="480" width="30" height="30" fill="#fff" fill-opacity="0.044"/><rect x="630" y="480" width="30" height="30" fill="#fff" fill-opacity="0.035"/><rect x="660" y="480" width="30" height="30" fill="#fff" fill-opacity="0.042"/><rect x="690" y="480" width="30" height="30" fill="#fff" fill-opacity="0.026"/><rect x="720" y="480" width="30" height="30" fill="#fff" fill-opacity="0.013"/><rect x="60" y="510" width="30" height="30" fill="#fff" fill-opacity="0.557"/><rect x="90" y="510" width="30" height="30" fill="#fff" fill-opacity="0.614"/><rect x="120" y="510" width="30" height="30" fill="#fff" fill-opacity="0.409"/><rect x="150" y="510" width="30" height="30" fill="#fff" fill-opacity="0.445"/><rect x="180" y="510" width="30" height="30" fill="#fff" fill-opacity="0.490"/><rect x="210" y="510" width="30" height="30" fill="#fff" fill-opacity="0.489"/><rect x="240" y="510" width="30" height="30" fill="#fff" fill-opacity="0.484"/><rect x="270" y="510" width="30" height="30" fill="#fff" fill-opacity="0.497"/><rect x="300" y="510" width="30" height="30" fill="#fff" fill-opacity="0.471"/><rect x="330" y="510" width="30" height="30" fill="#fff" fill-opacity="0.424"/><rect x="360" y="510" width="30" height="30" fill="#fff" fill-opacity="0.597"/><rect x="390" y="510" width="30" height="30" fill="#fff" fill-opacity="0.680"/><rect x="420" y="510" width="30" height="30" fill="#fff" fill-opacity="0.684"/><rect x="450" y="510" width="30" height="30" fill="#fff" fill-opacity="0.684"/><rect x="480" y="510" width="30" height="30" fill="#fff" fill-opacity="0.679"/><rect x="510" y="510" width="30" height="30" fill="#fff" fill-opacity="0.652"/><rect x="540" y="510" width="30" height="30" fill="#fff" fill-opacity="0.570"/><rect x="570" y="510" width="30" height="30" fill="#fff" fill-opacity="0.454"/><rect x="600" y="510" width="30" height="30" fill="#fff" fill-opacity="0.374"/><rect x="630" y="510" width="30" height="30" fill="#fff" fill-opacity="0.417"/><rect x="660" y="510" width="30" height="30" fill="#fff" fill-opacity="0.391"/><rect x="690" y="510" width="30" height="30" fill="#fff" fill-opacity="0.208"/><rect x="60" y="540" width="30" height="30" fill="#fff" fill-opacity="0.134"/><rect x="90" y="540" width="30" height="30" fill="#fff" fill-opacity="0.300"/><rect x="120" y="540" width="30" height="30" fill="#fff" fill-opacity="0.370"/><rect x="150" y="540" width="30" height="30" fill="#fff" fill-opacity="0.419"/><rect x="180" y="540" width="30" height="30" fill="#fff" fill-opacity="0.465"/><rect x="210" y="540" width="30" height="30" fill="#fff" fill-opacity="0.473"/><rect x="240" y="540" width="30" height="30" fill="#fff" fill-opacity="0.470"/><rect x="270" y="540" width="30" height="30" fill="#fff" fill-opacity="0.479"/><rect x="300" y="540" width="30" height="30" fill="#fff" fill-opacity="0.426"/><rect x="330" y="540" width="30" height="30" fill="#fff" fill-opacity="0.411"/><rect x="360" y="540" width="30" height="30" fill="#fff" fill-opacity="0.611"/><rect x="390" y="540" width="30" height="30" fill="#fff" fill-opacity="0.673"/><rect x="420" y="540" width="30" height="30" fill="#fff" fill-opacity="0.682"/><rect x="450" y="540" width="30" height="30" fill="#fff" fill-opacity="0.685"/><rect x="480" y="540" width="30" height="30" fill="#fff" fill-opacity="0.683"/><rect x="510" y="540" width="30" height="30" fill="#fff" fill-opacity="0.656"/><rect x="540" y="540" width="30" height="30" fill="#fff" fill-opacity="0.561"/><rect x="570" y="540" width="30" height="30" fill="#fff" fill-opacity="0.426"/><rect x="600" y="540" width="30" height="30" fill="#fff" fill-opacity="0.466"/><rect x="630" y="540" width="30" height="30" fill="#fff" fill-opacity="0.487"/><rect x="660" y="540" width="30" height="30" fill="#fff" fill-opacity="0.426"/><rect x="690" y="540" width="30" height="30" fill="#fff" fill-opacity="0.111"/><rect x="90" y="570" width="30" height="30" fill="#fff" fill-opacity="0.120"/><rect x="120" y="570" width="30" height="30" fill="#fff" fill-opacity="0.261"/><rect x="150" y="570" width="30" height="30" fill="#fff" fill-opacity="0.349"/><rect x="180" y="570" width="30" height="30" fill="#fff" fill-opacity="0.407"/><rect x="210" y="570" width="30" height="30" fill="#fff" fill-opacity="0.429"/><rect x="240" y="570" width="30" height="30" fill="#fff" fill-opacity="0.435"/><rect x="270" y="570" width="30" height="30" fill="#fff" fill-opacity="1.000"/><rect x="300" y="570" width="30" height="30" fill="#fff" fill-opacity="0.350"/><rect x="330" y="570" width="30" height="30" fill="#fff" fill-opacity="0.377"/><rect x="360" y="570" width="30" height="30" fill="#fff" fill-opacity="0.575"/><rect x="390" y="570" width="30" height="30" fill="#fff" fill-opacity="0.662"/><rect x="420" y="570" width="30" height="30" fill="#fff" fill-opacity="0.677"/><rect x="450" y="570" width="30" height="30" fill="#fff" fill-opacity="0.682"/><rect x="480" y="570" width="30" height="30" fill="#fff" fill-opacity="0.678"/><rect x="510" y="570" width="30" height="30" fill="#fff" fill-opacity="0.647"/><rect x="540" y="570" width="30" height="30" fill="#fff" fill-opacity="0.557"/><rect x="570" y="570" width="30" height="30" fill="#fff" fill-opacity="0.572"/><rect x="600" y="570" width="30" height="30" fill="#fff" fill-opacity="0.502"/><rect x="630" y="570" width="30" height="30" fill="#fff" fill-opacity="0.462"/><rect x="660" y="570" width="30" height="30" fill="#fff" fill-opacity="0.260"/><rect x="120" y="600" width="30" height="30" fill="#fff" fill-opacity="0.095"/><rect x="150" y="600" width="30" height="30" fill="#fff" fill-opacity="0.227"/><rect x="180" y="600" width="30" height="30" fill="#fff" fill-opacity="0.320"/><rect x="210" y="600" width="30" height="30" fill="#fff" fill-opacity="0.366"/><rect x="240" y="600" width="30" height="30" fill="#fff" fill-opacity="0.386"/><rect x="270" y="600" width="30" height="30" fill="#fff" fill-opacity="0.403"/><rect x="300" y="600" width="30" height="30" fill="#fff" fill-opacity="0.408"/><rect x="330" y="600" width="30" height="30" fill="#fff" fill-opacity="0.385"/><rect x="360" y="600" width="30" height="30" fill="#fff" fill-opacity="0.489"/><rect x="390" y="600" width="30" height="30" fill="#fff" fill-opacity="0.638"/><rect x="420" y="600" width="30" height="30" fill="#fff" fill-opacity="0.662"/><rect x="450" y="600" width="30" height="30" fill="#fff" fill-opacity="0.668"/><rect x="480" y="600" width="30" height="30" fill="#fff" fill-opacity="0.659"/><rect x="510" y="600" width="30" height="30" fill="#fff" fill-opacity="0.629"/><rect x="540" y="600" width="30" height="30" fill="#fff" fill-opacity="0.698"/><rect x="570" y="600" width="30" height="30" fill="#fff" fill-opacity="0.571"/><rect x="600" y="600" width="30" height="30" fill="#fff" fill-opacity="0.353"/><rect x="630" y="600" width="30" height="30" fill="#fff" fill-opacity="0.264"/><rect x="660" y="600" width="30" height="30" fill="#fff" fill-opacity="0.122"/><rect x="150" y="630" width="30" height="30" fill="#fff" fill-opacity="0.101"/><rect x="180" y="630" width="30" height="30" fill="#fff" fill-opacity="0.254"/><rect x="210" y="630" width="30" height="30" fill="#fff" fill-opacity="0.333"/><rect x="240" y="630" width="30" height="30" fill="#fff" fill-opacity="0.361"/><rect x="270" y="630" width="30" height="30" fill="#fff" fill-opacity="0.377"/><rect x="300" y="630" width="30" height="30" fill="#fff" fill-opacity="0.405"/><rect x="330" y="630" width="30" height="30" fill="#fff" fill-opacity="0.422"/><rect x="360" y="630" width="30" height="30" fill="#fff" fill-opacity="0.381"/><rect x="390" y="630" width="30" height="30" fill="#fff" fill-opacity="0.530"/><rect x="420" y="630" width="30" height="30" fill="#fff" fill-opacity="0.633"/><rect x="450" y="630" width="30" height="30" fill="#fff" fill-opacity="0.643"/><rect x="480" y="630" width="30" height="30" fill="#fff" fill-opacity="0.732"/><rect x="510" y="630" width="30" height="30" fill="#fff" fill-opacity="0.917"/><rect x="540" y="630" width="30" height="30" fill="#fff" fill-opacity="0.879"/><rect x="570" y="630" width="30" height="30" fill="#fff" fill-opacity="0.704"/><rect x="600" y="630" width="30" height="30" fill="#fff" fill-opacity="0.390"/><rect x="630" y="630" width="30" height="30" fill="#fff" fill-opacity="0.224"/><rect x="180" y="660" width="30" height="30" fill="#fff" fill-opacity="0.230"/><rect x="210" y="660" width="30" height="30" fill="#fff" fill-opacity="0.341"/><rect x="240" y="660" width="30" height="30" fill="#fff" fill-opacity="0.365"/><rect x="270" y="660" width="30" height="30" fill="#fff" fill-opacity="0.370"/><rect x="300" y="660" width="30" height="30" fill="#fff" fill-opacity="0.392"/><rect x="330" y="660" width="30" height="30" fill="#fff" fill-opacity="0.445"/><rect x="360" y="660" width="30" height="30" fill="#fff" fill-opacity="0.433"/><rect x="390" y="660" width="30" height="30" fill="#fff" fill-opacity="0.489"/><rect x="420" y="660" width="30" height="30" fill="#fff" fill-opacity="0.505"/><rect x="450" y="660" width="30" height="30" fill="#fff" fill-opacity="0.760"/><rect x="480" y="660" width="30" height="30" fill="#fff" fill-opacity="0.920"/><rect x="510" y="660" width="30" height="30" fill="#fff" fill-opacity="0.946"/><rect x="540" y="660" width="30" height="30" fill="#fff" fill-opacity="0.800"/><rect x="570" y="660" width="30" height="30" fill="#fff" fill-opacity="0.580"/><rect x="600" y="660" width="30" height="30" fill="#fff" fill-opacity="0.420"/><rect x="630" y="660" width="30" height="30" fill="#fff" fill-opacity="0.214"/><rect x="180" y="690" width="30" height="30" fill="#fff" fill-opacity="0.185"/><rect x="210" y="690" width="30" height="30" fill="#fff" fill-opacity="0.341"/><rect x="240" y="690" width="30" height="30" fill="#fff" fill-opacity="0.368"/><rect x="270" y="690" width="30" height="30" fill="#fff" fill-opacity="0.369"/><rect x="300" y="690" width="30" height="30" fill="#fff" fill-opacity="0.392"/><rect x="330" y="690" width="30" height="30" fill="#fff" fill-opacity="0.452"/><rect x="360" y="690" width="30" height="30" fill="#fff" fill-opacity="0.509"/><rect x="390" y="690" width="30" height="30" fill="#fff" fill-opacity="0.542"/><rect x="420" y="690" width="30" height="30" fill="#fff" fill-opacity="0.754"/><rect x="450" y="690" width="30" height="30" fill="#fff" fill-opacity="0.857"/><rect x="480" y="690" width="30" height="30" fill="#fff" fill-opacity="0.898"/><rect x="510" y="690" width="30" height="30" fill="#fff" fill-opacity="0.801"/><rect x="540" y="690" width="30" height="30" fill="#fff" fill-opacity="0.661"/><rect x="570" y="690" width="30" height="30" fill="#fff" fill-opacity="0.560"/><rect x="600" y="690" width="30" height="30" fill="#fff" fill-opacity="0.357"/><rect x="630" y="690" width="30" height="30" fill="#fff" fill-opacity="0.168"/><rect x="180" y="720" width="30" height="30" fill="#fff" fill-opacity="0.041"/><rect x="210" y="720" width="30" height="30" fill="#fff" fill-opacity="0.277"/><rect x="240" y="720" width="30" height="30" fill="#fff" fill-opacity="0.342"/><rect x="270" y="720" width="30" height="30" fill="#fff" fill-opacity="0.361"/><rect x="300" y="720" width="30" height="30" fill="#fff" fill-opacity="0.405"/><rect x="330" y="720" width="30" height="30" fill="#fff" fill-opacity="0.478"/><rect x="360" y="720" width="30" height="30" fill="#fff" fill-opacity="0.523"/><rect x="390" y="720" width="30" height="30" fill="#fff" fill-opacity="0.537"/><rect x="420" y="720" width="30" height="30" fill="#fff" fill-opacity="0.726"/><rect x="450" y="720" width="30" height="30" fill="#fff" fill-opacity="0.739"/><rect x="480" y="720" width="30" height="30" fill="#fff" fill-opacity="0.699"/><rect x="510" y="720" width="30" height="30" fill="#fff" fill-opacity="0.580"/><rect x="540" y="720" width="30" height="30" fill="#fff" fill-opacity="0.542"/><rect x="570" y="720" width="30" height="30" fill="#fff" fill-opacity="0.354"/><rect x="600" y="720" width="30" height="30" fill="#fff" fill-opacity="0.160"/><rect x="630" y="720" width="30" height="30" fill="#fff" fill-opacity="0.071"/><rect x="210" y="750" width="30" height="30" fill="#fff" fill-opacity="0.121"/><rect x="240" y="750" width="30" height="30" fill="#fff" fill-opacity="0.270"/><rect x="270" y="750" width="30" height="30" fill="#fff" fill-opacity="0.345"/><rect x="300" y="750" width="30" height="30" fill="#fff" fill-opacity="0.429"/><rect x="330" y="750" width="30" height="30" fill="#fff" fill-opacity="0.505"/><rect x="360" y="750" width="30" height="30" fill="#fff" fill-opacity="0.713"/><rect x="390" y="750" width="30" height="30" fill="#fff" fill-opacity="0.720"/><rect x="420" y="750" width="30" height="30" fill="#fff" fill-opacity="0.662"/><rect x="450" y="750" width="30" height="30" fill="#fff" fill-opacity="0.526"/><rect x="480" y="750" width="30" height="30" fill="#fff" fill-opacity="0.493"/><rect x="510" y="750" width="30" height="30" fill="#fff" fill-opacity="0.427"/><rect x="540" y="750" width="30" height="30" fill="#fff" fill-opacity="0.282"/><rect x="570" y="750" width="30" height="30" fill="#fff" fill-opacity="0.074"/><rect x="240" y="780" width="30" height="30" fill="#fff" fill-opacity="0.172"/><rect x="270" y="780" width="30" height="30" fill="#fff" fill-opacity="0.321"/><rect x="300" y="780" width="30" height="30" fill="#fff" fill-opacity="0.448"/><rect x="330" y="780" width="30" height="30" fill="#fff" fill-opacity="0.689"/><rect x="360" y="780" width="30" height="30" fill="#fff" fill-opacity="0.718"/><rect x="390" y="780" width="30" height="30" fill="#fff" fill-opacity="0.722"/><rect x="420" y="780" width="30" height="30" fill="#fff" fill-opacity="0.537"/><rect x="450" y="780" width="30" height="30" fill="#fff" fill-opacity="0.511"/><rect x="480" y="780" width="30" height="30" fill="#fff" fill-opacity="0.432"/><rect x="510" y="780" width="30" height="30" fill="#fff" fill-opacity="0.299"/><rect x="540" y="780" width="30" height="30" fill="#fff" fill-opacity="0.141"/></g>
<g filter="url(#cblur)"><rect x="90" y="0" width="30" height="30" fill="#10121a" fill-opacity="0.003"/><rect x="120" y="0" width="30" height="30" fill="#10121a" fill-opacity="0.006"/><rect x="150" y="0" width="30" height="30" fill="#10121a" fill-opacity="0.006"/><rect x="630" y="0" width="30" height="30" fill="#10121a" fill-opacity="0.002"/><rect x="660" y="0" width="30" height="30" fill="#10121a" fill-opacity="0.011"/><rect x="690" y="0" width="30" height="30" fill="#10121a" fill-opacity="0.025"/><rect x="720" y="0" width="30" height="30" fill="#10121a" fill-opacity="0.042"/><rect x="750" y="0" width="30" height="30" fill="#10121a" fill-opacity="0.052"/><rect x="780" y="0" width="30" height="30" fill="#10121a" fill-opacity="0.056"/><rect x="90" y="30" width="30" height="30" fill="#10121a" fill-opacity="0.005"/><rect x="120" y="30" width="30" height="30" fill="#10121a" fill-opacity="0.006"/><rect x="150" y="30" width="30" height="30" fill="#10121a" fill-opacity="0.006"/><rect x="660" y="30" width="30" height="30" fill="#10121a" fill-opacity="0.005"/><rect x="690" y="30" width="30" height="30" fill="#10121a" fill-opacity="0.019"/><rect x="720" y="30" width="30" height="30" fill="#10121a" fill-opacity="0.030"/><rect x="750" y="30" width="30" height="30" fill="#10121a" fill-opacity="0.041"/><rect x="780" y="30" width="30" height="30" fill="#10121a" fill-opacity="0.047"/><rect x="60" y="60" width="30" height="30" fill="#10121a" fill-opacity="0.004"/><rect x="90" y="60" width="30" height="30" fill="#10121a" fill-opacity="0.007"/><rect x="120" y="60" width="30" height="30" fill="#10121a" fill-opacity="0.006"/><rect x="150" y="60" width="30" height="30" fill="#10121a" fill-opacity="0.004"/><rect x="690" y="60" width="30" height="30" fill="#10121a" fill-opacity="0.004"/><rect x="720" y="60" width="30" height="30" fill="#10121a" fill-opacity="0.010"/><rect x="750" y="60" width="30" height="30" fill="#10121a" fill-opacity="0.014"/><rect x="780" y="60" width="30" height="30" fill="#10121a" fill-opacity="0.018"/><rect x="60" y="90" width="30" height="30" fill="#10121a" fill-opacity="0.004"/><rect x="90" y="90" width="30" height="30" fill="#10121a" fill-opacity="0.006"/><rect x="120" y="90" width="30" height="30" fill="#10121a" fill-opacity="0.005"/><rect x="150" y="90" width="30" height="30" fill="#10121a" fill-opacity="0.003"/><rect x="90" y="120" width="30" height="30" fill="#10121a" fill-opacity="0.004"/><rect x="120" y="120" width="30" height="30" fill="#10121a" fill-opacity="0.004"/><rect x="0" y="210" width="30" height="30" fill="#10121a" fill-opacity="0.008"/><rect x="30" y="210" width="30" height="30" fill="#10121a" fill-opacity="0.007"/><rect x="60" y="210" width="30" height="30" fill="#10121a" fill-opacity="0.005"/><rect x="0" y="240" width="30" height="30" fill="#10121a" fill-opacity="0.016"/><rect x="30" y="240" width="30" height="30" fill="#10121a" fill-opacity="0.014"/><rect x="60" y="240" width="30" height="30" fill="#10121a" fill-opacity="0.010"/><rect x="0" y="270" width="30" height="30" fill="#10121a" fill-opacity="0.020"/><rect x="30" y="270" width="30" height="30" fill="#10121a" fill-opacity="0.017"/><rect x="60" y="270" width="30" height="30" fill="#10121a" fill-opacity="0.013"/><rect x="0" y="300" width="30" height="30" fill="#10121a" fill-opacity="0.019"/><rect x="30" y="300" width="30" height="30" fill="#10121a" fill-opacity="0.018"/><rect x="60" y="300" width="30" height="30" fill="#10121a" fill-opacity="0.014"/><rect x="0" y="330" width="30" height="30" fill="#10121a" fill-opacity="0.019"/><rect x="30" y="330" width="30" height="30" fill="#10121a" fill-opacity="0.018"/><rect x="60" y="330" width="30" height="30" fill="#10121a" fill-opacity="0.013"/><rect x="0" y="360" width="30" height="30" fill="#10121a" fill-opacity="0.020"/><rect x="30" y="360" width="30" height="30" fill="#10121a" fill-opacity="0.018"/><rect x="60" y="360" width="30" height="30" fill="#10121a" fill-opacity="0.012"/><rect x="0" y="390" width="30" height="30" fill="#10121a" fill-opacity="0.025"/><rect x="30" y="390" width="30" height="30" fill="#10121a" fill-opacity="0.021"/><rect x="60" y="390" width="30" height="30" fill="#10121a" fill-opacity="0.017"/><rect x="0" y="420" width="30" height="30" fill="#10121a" fill-opacity="0.028"/><rect x="30" y="420" width="30" height="30" fill="#10121a" fill-opacity="0.048"/><rect x="60" y="420" width="30" height="30" fill="#10121a" fill-opacity="0.022"/><rect x="0" y="450" width="30" height="30" fill="#10121a" fill-opacity="0.027"/><rect x="30" y="450" width="30" height="30" fill="#10121a" fill-opacity="0.021"/><rect x="60" y="450" width="30" height="30" fill="#10121a" fill-opacity="0.003"/><rect x="0" y="480" width="30" height="30" fill="#10121a" fill-opacity="0.021"/><rect x="30" y="480" width="30" height="30" fill="#10121a" fill-opacity="0.010"/><rect x="780" y="480" width="30" height="30" fill="#10121a" fill-opacity="0.005"/><rect x="0" y="510" width="30" height="30" fill="#10121a" fill-opacity="0.012"/><rect x="30" y="510" width="30" height="30" fill="#10121a" fill-opacity="0.003"/><rect x="720" y="510" width="30" height="30" fill="#10121a" fill-opacity="0.003"/><rect x="750" y="510" width="30" height="30" fill="#10121a" fill-opacity="0.012"/><rect x="780" y="510" width="30" height="30" fill="#10121a" fill-opacity="0.014"/><rect x="0" y="540" width="30" height="30" fill="#10121a" fill-opacity="0.011"/><rect x="30" y="540" width="30" height="30" fill="#10121a" fill-opacity="0.006"/><rect x="720" y="540" width="30" height="30" fill="#10121a" fill-opacity="0.010"/><rect x="750" y="540" width="30" height="30" fill="#10121a" fill-opacity="0.016"/><rect x="780" y="540" width="30" height="30" fill="#10121a" fill-opacity="0.017"/><rect x="0" y="570" width="30" height="30" fill="#10121a" fill-opacity="0.012"/><rect x="30" y="570" width="30" height="30" fill="#10121a" fill-opacity="0.012"/><rect x="60" y="570" width="30" height="30" fill="#10121a" fill-opacity="0.005"/><rect x="720" y="570" width="30" height="30" fill="#10121a" fill-opacity="0.016"/><rect x="750" y="570" width="30" height="30" fill="#10121a" fill-opacity="0.020"/><rect x="780" y="570" width="30" height="30" fill="#10121a" fill-opacity="0.020"/><rect x="0" y="600" width="30" height="30" fill="#10121a" fill-opacity="0.015"/><rect x="30" y="600" width="30" height="30" fill="#10121a" fill-opacity="0.014"/><rect x="60" y="600" width="30" height="30" fill="#10121a" fill-opacity="0.013"/><rect x="90" y="600" width="30" height="30" fill="#10121a" fill-opacity="0.004"/><rect x="690" y="600" width="30" height="30" fill="#10121a" fill-opacity="0.009"/><rect x="720" y="600" width="30" height="30" fill="#10121a" fill-opacity="0.034"/><rect x="750" y="600" width="30" height="30" fill="#10121a" fill-opacity="0.030"/><rect x="780" y="600" width="30" height="30" fill="#10121a" fill-opacity="0.028"/><rect x="0" y="630" width="30" height="30" fill="#10121a" fill-opacity="0.029"/><rect x="30" y="630" width="30" height="30" fill="#10121a" fill-opacity="0.026"/><rect x="60" y="630" width="30" height="30" fill="#10121a" fill-opacity="0.024"/><rect x="90" y="630" width="30" height="30" fill="#10121a" fill-opacity="0.017"/><rect x="120" y="630" width="30" height="30" fill="#10121a" fill-opacity="0.005"/><rect x="690" y="630" width="30" height="30" fill="#10121a" fill-opacity="0.015"/><rect x="720" y="630" width="30" height="30" fill="#10121a" fill-opacity="0.027"/><rect x="750" y="630" width="30" height="30" fill="#10121a" fill-opacity="0.031"/><rect x="780" y="630" width="30" height="30" fill="#10121a" fill-opacity="0.030"/><rect x="0" y="660" width="30" height="30" fill="#10121a" fill-opacity="0.046"/><rect x="30" y="660" width="30" height="30" fill="#10121a" fill-opacity="0.043"/><rect x="60" y="660" width="30" height="30" fill="#10121a" fill-opacity="0.037"/><rect x="90" y="660" width="30" height="30" fill="#10121a" fill-opacity="0.029"/><rect x="120" y="660" width="30" height="30" fill="#10121a" fill-opacity="0.015"/><rect x="690" y="660" width="30" height="30" fill="#10121a" fill-opacity="0.016"/><rect x="720" y="660" width="30" height="30" fill="#10121a" fill-opacity="0.025"/><rect x="750" y="660" width="30" height="30" fill="#10121a" fill-opacity="0.029"/><rect x="780" y="660" width="30" height="30" fill="#10121a" fill-opacity="0.030"/><rect x="0" y="690" width="30" height="30" fill="#10121a" fill-opacity="0.050"/><rect x="30" y="690" width="30" height="30" fill="#10121a" fill-opacity="0.049"/><rect x="60" y="690" width="30" height="30" fill="#10121a" fill-opacity="0.045"/><rect x="90" y="690" width="30" height="30" fill="#10121a" fill-opacity="0.038"/><rect x="120" y="690" width="30" height="30" fill="#10121a" fill-opacity="0.027"/><rect x="150" y="690" width="30" height="30" fill="#10121a" fill-opacity="0.009"/><rect x="690" y="690" width="30" height="30" fill="#10121a" fill-opacity="0.016"/><rect x="720" y="690" width="30" height="30" fill="#10121a" fill-opacity="0.025"/><rect x="750" y="690" width="30" height="30" fill="#10121a" fill-opacity="0.029"/><rect x="780" y="690" width="30" height="30" fill="#10121a" fill-opacity="0.031"/><rect x="0" y="720" width="30" height="30" fill="#10121a" fill-opacity="0.054"/><rect x="30" y="720" width="30" height="30" fill="#10121a" fill-opacity="0.054"/><rect x="60" y="720" width="30" height="30" fill="#10121a" fill-opacity="0.049"/><rect x="90" y="720" width="30" height="30" fill="#10121a" fill-opacity="0.042"/><rect x="120" y="720" width="30" height="30" fill="#10121a" fill-opacity="0.034"/><rect x="150" y="720" width="30" height="30" fill="#10121a" fill-opacity="0.020"/><rect x="660" y="720" width="30" height="30" fill="#10121a" fill-opacity="0.004"/><rect x="690" y="720" width="30" height="30" fill="#10121a" fill-opacity="0.017"/><rect x="720" y="720" width="30" height="30" fill="#10121a" fill-opacity="0.027"/><rect x="750" y="720" width="30" height="30" fill="#10121a" fill-opacity="0.033"/><rect x="780" y="720" width="30" height="30" fill="#10121a" fill-opacity="0.034"/><rect x="0" y="750" width="30" height="30" fill="#10121a" fill-opacity="0.063"/><rect x="30" y="750" width="30" height="30" fill="#10121a" fill-opacity="0.062"/><rect x="60" y="750" width="30" height="30" fill="#10121a" fill-opacity="0.052"/><rect x="90" y="750" width="30" height="30" fill="#10121a" fill-opacity="0.041"/><rect x="120" y="750" width="30" height="30" fill="#10121a" fill-opacity="0.037"/><rect x="150" y="750" width="30" height="30" fill="#10121a" fill-opacity="0.031"/><rect x="180" y="750" width="30" height="30" fill="#10121a" fill-opacity="0.012"/><rect x="660" y="750" width="30" height="30" fill="#10121a" fill-opacity="0.006"/><rect x="690" y="750" width="30" height="30" fill="#10121a" fill-opacity="0.018"/><rect x="720" y="750" width="30" height="30" fill="#10121a" fill-opacity="0.030"/><rect x="750" y="750" width="30" height="30" fill="#10121a" fill-opacity="0.035"/><rect x="780" y="750" width="30" height="30" fill="#10121a" fill-opacity="0.039"/><rect x="0" y="780" width="30" height="30" fill="#10121a" fill-opacity="0.064"/><rect x="30" y="780" width="30" height="30" fill="#10121a" fill-opacity="0.063"/><rect x="60" y="780" width="30" height="30" fill="#10121a" fill-opacity="0.051"/><rect x="90" y="780" width="30" height="30" fill="#10121a" fill-opacity="0.040"/><rect x="120" y="780" width="30" height="30" fill="#10121a" fill-opacity="0.038"/><rect x="150" y="780" width="30" height="30" fill="#10121a" fill-opacity="0.035"/><rect x="180" y="780" width="30" height="30" fill="#10121a" fill-opacity="0.022"/><rect x="210" y="780" width="30" height="30" fill="#10121a" fill-opacity="0.004"/><rect x="600" y="780" width="30" height="30" fill="#10121a" fill-opacity="0.002"/><rect x="630" y="780" width="30" height="30" fill="#10121a" fill-opacity="0.002"/><rect x="660" y="780" width="30" height="30" fill="#10121a" fill-opacity="0.007"/><rect x="690" y="780" width="30" height="30" fill="#10121a" fill-opacity="0.020"/><rect x="720" y="780" width="30" height="30" fill="#10121a" fill-opacity="0.031"/><rect x="750" y="780" width="30" height="30" fill="#10121a" fill-opacity="0.038"/><rect x="780" y="780" width="30" height="30" fill="#10121a" fill-opacity="0.039"/></g>

<g id="t1">
<path d="M68,186.4 H327 Q336.5,186.4 336.5,196 V259.5 Q336.5,272.5 323.5,272.5 H68 Z" fill="#45484d"/>
<rect x="68" y="186.4" width="262" height="5" fill="url(#t1top)"/>
<rect x="68" y="270.5" width="256" height="2" fill="#505256"/>
<rect x="64.8" y="193.2" width="4.2" height="4.6" rx="1" fill="#c8262a"/>
<rect x="65" y="259.5" width="3" height="9" fill="#5e6064"/>
<rect x="66" y="236" width="2" height="18" fill="#3a3b3f"/>
<path d="M178,187.6 L178.3,182.5 Q178.8,180.2 182,180 L214,179.1 Q217,179 218.3,181 L219.6,185.5 L219.2,187.6 Z" fill="#131315"/>
</g>

<g id="t2"><polygon points="587.0,241.6 408.5,261.3 406.8,261.7 405.2,262.6 403.9,263.8 402.9,265.4 402.2,267.1 402.0,268.9 402.0,324.1 402.2,325.9 402.9,327.4 403.9,328.7 405.2,329.6 406.8,330.0 408.5,330.0 587.0,302.4" fill="#2e2f33"/>
<polygon points="586.1,242.9 408.5,262.7 404.8,268.6 404.8,323.7 408.5,328.6 586.1,301.3" fill="url(#rim1)"/>
<polygon points="583.3,249.3 414.9,268.8 414.9,322.2 583.3,296.9" fill="url(#tex1)"/>
<line x1="586.1" y1="244.2" x2="586.1" y2="302.6" stroke="#16171a" stroke-width="2.4" opacity="0.7"/><line x1="585.5" y1="243.0" x2="585.5" y2="301.4" stroke="#77787a" stroke-width="2.4"/>
<line x1="583.9" y1="247.8" x2="411.9" y2="267.3" stroke="#16171a" stroke-width="3.9" opacity="0.7"/><line x1="583.3" y1="246.6" x2="411.2" y2="266.1" stroke="#767772" stroke-width="3.9"/>
<line x1="583.9" y1="300.8" x2="411.9" y2="327.0" stroke="#16171a" stroke-width="3.9" opacity="0.7"/><line x1="583.3" y1="299.6" x2="411.2" y2="325.8" stroke="#767772" stroke-width="3.9"/>
<line x1="509.9" y1="255.9" x2="509.9" y2="312.4" stroke="#16171a" stroke-width="3.9" opacity="0.7"/><line x1="509.3" y1="254.7" x2="509.3" y2="311.2" stroke="#767772" stroke-width="3.9"/>
<line x1="504.4" y1="262.9" x2="419.2" y2="273.0" stroke="#16171a" stroke-width="3.9" opacity="0.7"/><line x1="503.8" y1="261.7" x2="418.6" y2="271.8" stroke="#767772" stroke-width="3.9"/>
<line x1="504.4" y1="306.2" x2="419.2" y2="318.7" stroke="#16171a" stroke-width="3.9" opacity="0.7"/><line x1="503.8" y1="305.0" x2="418.6" y2="317.5" stroke="#767772" stroke-width="3.9"/>
<line x1="491.4" y1="263.2" x2="491.4" y2="309.4" stroke="#16171a" stroke-width="3.9" opacity="0.7"/><line x1="490.8" y1="262.0" x2="490.8" y2="308.2" stroke="#767772" stroke-width="3.9"/>
<line x1="420.2" y1="271.5" x2="420.2" y2="325.4" stroke="#16171a" stroke-width="3.9" opacity="0.7"/><line x1="419.6" y1="270.3" x2="419.6" y2="324.2" stroke="#767772" stroke-width="3.9"/>
<line x1="491.4" y1="285.9" x2="450.7" y2="291.3" stroke="#16171a" stroke-width="2.8" opacity="0.7"/><line x1="490.8" y1="284.7" x2="450.1" y2="290.1" stroke="#767772" stroke-width="2.8"/>
<polyline points="470.4,265.7 450.1,290.1 470.4,309.9" fill="none" stroke="#5f605b" stroke-width="1.7"/>
<line x1="450.7" y1="291.3" x2="428.5" y2="295.6" stroke="#16171a" stroke-width="1.4" opacity="0.7"/><line x1="450.1" y1="290.1" x2="427.9" y2="294.4" stroke="#767772" stroke-width="1.4"/><polygon points="589.0,241.8 769.5,258.8 771.1,259.2 772.7,260.0 774.1,261.3 775.1,262.8 775.8,264.5 776.0,266.4 776.0,322.1 775.8,323.9 775.1,325.5 774.1,326.8 772.7,327.7 771.1,328.2 769.5,328.2 589.0,302.4" fill="#2e2f33"/>
<polygon points="589.9,243.1 769.5,260.2 773.2,266.1 773.2,321.7 769.5,326.8 589.9,301.3" fill="url(#rim2)"/>
<polygon points="592.7,249.4 762.9,266.5 762.9,320.3 592.7,296.9" fill="url(#tex2)"/>
<line x1="591.1" y1="244.4" x2="591.1" y2="302.6" stroke="#16171a" stroke-width="2.4" opacity="0.7"/><line x1="590.5" y1="243.2" x2="590.5" y2="301.4" stroke="#77787a" stroke-width="2.4"/>
<line x1="593.3" y1="247.9" x2="767.2" y2="264.9" stroke="#16171a" stroke-width="3.9" opacity="0.7"/><line x1="592.7" y1="246.7" x2="766.6" y2="263.7" stroke="#767772" stroke-width="3.9"/>
<line x1="593.3" y1="300.8" x2="767.2" y2="325.2" stroke="#16171a" stroke-width="3.9" opacity="0.7"/><line x1="592.7" y1="299.6" x2="766.6" y2="324.0" stroke="#767772" stroke-width="3.9"/>
<line x1="593.3" y1="253.7" x2="647.6" y2="259.2" stroke="#16171a" stroke-width="3.9" opacity="0.7"/><line x1="592.7" y1="252.5" x2="647.0" y2="258.0" stroke="#767772" stroke-width="3.9"/>
<line x1="593.3" y1="294.4" x2="647.6" y2="301.7" stroke="#16171a" stroke-width="3.9" opacity="0.7"/><line x1="592.7" y1="293.2" x2="647.0" y2="300.5" stroke="#767772" stroke-width="3.9"/>
<line x1="645.7" y1="257.8" x2="645.7" y2="302.7" stroke="#16171a" stroke-width="3.9" opacity="0.7"/><line x1="645.1" y1="256.6" x2="645.1" y2="301.5" stroke="#767772" stroke-width="3.9"/>
<line x1="610.2" y1="277.0" x2="645.7" y2="281.2" stroke="#16171a" stroke-width="2.8" opacity="0.7"/><line x1="609.6" y1="275.8" x2="645.1" y2="280.0" stroke="#767772" stroke-width="2.8"/>
<polyline points="628.3,257.4 609.6,275.8 628.3,296.8" fill="none" stroke="#5f605b" stroke-width="1.7"/>
<line x1="666.3" y1="254.7" x2="666.3" y2="311.3" stroke="#16171a" stroke-width="3.9" opacity="0.7"/><line x1="665.7" y1="253.5" x2="665.7" y2="310.1" stroke="#767772" stroke-width="3.9"/>
<line x1="673.8" y1="261.9" x2="759.8" y2="270.7" stroke="#16171a" stroke-width="3.9" opacity="0.7"/><line x1="673.1" y1="260.7" x2="759.2" y2="269.5" stroke="#767772" stroke-width="3.9"/>
<line x1="673.8" y1="305.3" x2="759.8" y2="316.9" stroke="#16171a" stroke-width="3.9" opacity="0.7"/><line x1="673.1" y1="304.1" x2="759.2" y2="315.7" stroke="#767772" stroke-width="3.9"/>
<line x1="686.8" y1="262.0" x2="686.8" y2="308.3" stroke="#16171a" stroke-width="3.9" opacity="0.7"/><line x1="686.2" y1="260.8" x2="686.2" y2="307.1" stroke="#767772" stroke-width="3.9"/>
<line x1="758.8" y1="269.3" x2="758.8" y2="323.6" stroke="#16171a" stroke-width="3.9" opacity="0.7"/><line x1="758.2" y1="268.1" x2="758.2" y2="322.4" stroke="#767772" stroke-width="3.9"/>
<line x1="686.8" y1="284.8" x2="728.0" y2="289.7" stroke="#16171a" stroke-width="2.8" opacity="0.7"/><line x1="686.2" y1="283.6" x2="727.4" y2="288.5" stroke="#767772" stroke-width="2.8"/>
<polyline points="706.8,264.2 727.4,288.5 706.8,308.6" fill="none" stroke="#5f605b" stroke-width="1.7"/>
<line x1="728.0" y1="289.7" x2="750.4" y2="293.7" stroke="#16171a" stroke-width="1.4" opacity="0.7"/><line x1="727.4" y1="288.5" x2="749.8" y2="292.5" stroke="#767772" stroke-width="1.4"/><rect x="584" y="244.8" width="12" height="4.2" rx="1.5" fill="#a81e22"/><path d="M656.7,258.5 V246.8 Q656.7,244.3 659.2,244.3 H683.6 Q686.1,244.3 686.1,246.8 V258.5 H680.7 V248.0 H662.1 V258.5 Z" fill="#151517"/></g>
<g id="t3"><polygon points="208.0,385.5 38.5,395.3 37.0,395.7 35.5,396.4 34.2,397.5 33.2,398.9 32.6,400.4 32.4,402.1 32.4,453.3 32.6,454.9 33.2,456.4 34.2,457.6 35.5,458.5 37.0,459.0 38.5,459.1 208.0,442.0" fill="#2e2f33"/>
<polygon points="207.1,386.7 38.5,396.6 35.0,401.9 35.0,453.0 38.5,457.8 207.1,441.0" fill="url(#rim3)"/>
<polygon points="204.5,392.5 44.7,402.6 44.7,452.1 204.5,436.7" fill="url(#tex3)"/>
<line x1="207.2" y1="387.9" x2="207.2" y2="442.2" stroke="#16171a" stroke-width="2.4" opacity="0.7"/><line x1="206.6" y1="386.7" x2="206.6" y2="441.0" stroke="#77787a" stroke-width="2.4"/>
<line x1="205.1" y1="391.2" x2="41.8" y2="401.2" stroke="#16171a" stroke-width="3.9" opacity="0.7"/><line x1="204.5" y1="390.0" x2="41.2" y2="400.0" stroke="#767772" stroke-width="3.9"/>
<line x1="205.1" y1="440.4" x2="41.8" y2="456.5" stroke="#16171a" stroke-width="3.9" opacity="0.7"/><line x1="204.5" y1="439.2" x2="41.2" y2="455.3" stroke="#767772" stroke-width="3.9"/>
<line x1="133.1" y1="395.3" x2="133.1" y2="447.8" stroke="#16171a" stroke-width="3.9" opacity="0.7"/><line x1="132.5" y1="394.1" x2="132.5" y2="446.6" stroke="#767772" stroke-width="3.9"/>
<line x1="48.8" y1="400.4" x2="48.8" y2="456.1" stroke="#16171a" stroke-width="3.9" opacity="0.7"/><line x1="48.2" y1="399.2" x2="48.2" y2="454.9" stroke="#767772" stroke-width="3.9"/><polygon points="210.0,385.5 367.3,396.7 368.8,397.0 370.1,397.8 371.3,398.9 372.2,400.4 372.8,402.0 373.0,403.8 373.0,457.1 372.8,458.8 372.2,460.4 371.3,461.6 370.1,462.5 368.8,463.0 367.3,463.0 210.0,441.3" fill="#2e2f33"/>
<polygon points="210.8,386.7 367.3,398.0 370.6,403.6 370.6,456.8 367.3,461.7 210.8,440.3" fill="url(#rim4)"/>
<polygon points="213.3,392.5 361.6,404.2 361.6,455.6 213.3,436.1" fill="url(#tex4)"/>
<line x1="211.9" y1="387.9" x2="211.9" y2="441.6" stroke="#16171a" stroke-width="2.4" opacity="0.7"/><line x1="211.3" y1="386.7" x2="211.3" y2="440.4" stroke="#77787a" stroke-width="2.4"/>
<line x1="213.9" y1="391.1" x2="365.5" y2="402.7" stroke="#16171a" stroke-width="3.9" opacity="0.7"/><line x1="213.3" y1="389.9" x2="364.9" y2="401.5" stroke="#767772" stroke-width="3.9"/>
<line x1="213.9" y1="439.9" x2="365.5" y2="460.2" stroke="#16171a" stroke-width="3.9" opacity="0.7"/><line x1="213.3" y1="438.7" x2="364.9" y2="459.0" stroke="#767772" stroke-width="3.9"/>
<line x1="213.9" y1="396.5" x2="261.1" y2="400.4" stroke="#16171a" stroke-width="3.9" opacity="0.7"/><line x1="213.3" y1="395.3" x2="260.5" y2="399.2" stroke="#767772" stroke-width="3.9"/>
<line x1="213.9" y1="434.0" x2="261.1" y2="440.0" stroke="#16171a" stroke-width="3.9" opacity="0.7"/><line x1="213.3" y1="432.8" x2="260.5" y2="438.8" stroke="#767772" stroke-width="3.9"/>
<line x1="259.5" y1="399.0" x2="259.5" y2="441.0" stroke="#16171a" stroke-width="3.9" opacity="0.7"/><line x1="258.9" y1="397.8" x2="258.9" y2="439.8" stroke="#767772" stroke-width="3.9"/>
<line x1="228.5" y1="417.6" x2="259.5" y2="420.9" stroke="#16171a" stroke-width="2.8" opacity="0.7"/><line x1="227.9" y1="416.4" x2="258.9" y2="419.7" stroke="#767772" stroke-width="2.8"/>
<polyline points="244.2,399.0 227.9,416.4 244.2,435.6" fill="none" stroke="#5f605b" stroke-width="1.7"/>
<line x1="277.4" y1="395.7" x2="277.4" y2="448.7" stroke="#16171a" stroke-width="3.9" opacity="0.7"/><line x1="276.8" y1="394.5" x2="276.8" y2="447.5" stroke="#767772" stroke-width="3.9"/>
<line x1="284.0" y1="402.2" x2="358.9" y2="408.4" stroke="#16171a" stroke-width="3.9" opacity="0.7"/><line x1="283.4" y1="401.0" x2="358.3" y2="407.2" stroke="#767772" stroke-width="3.9"/>
<line x1="284.0" y1="442.9" x2="358.9" y2="452.5" stroke="#16171a" stroke-width="3.9" opacity="0.7"/><line x1="283.4" y1="441.7" x2="358.3" y2="451.3" stroke="#767772" stroke-width="3.9"/>
<line x1="295.4" y1="402.0" x2="295.4" y2="445.6" stroke="#16171a" stroke-width="3.9" opacity="0.7"/><line x1="294.8" y1="400.8" x2="294.8" y2="444.4" stroke="#767772" stroke-width="3.9"/>
<line x1="358.1" y1="407.0" x2="358.1" y2="458.9" stroke="#16171a" stroke-width="3.9" opacity="0.7"/><line x1="357.5" y1="405.8" x2="357.5" y2="457.7" stroke="#767772" stroke-width="3.9"/>
<line x1="295.4" y1="423.5" x2="331.2" y2="427.2" stroke="#16171a" stroke-width="2.8" opacity="0.7"/><line x1="294.8" y1="422.3" x2="330.6" y2="426.0" stroke="#767772" stroke-width="2.8"/>
<polyline points="312.7,403.5 330.6,426.0 312.7,445.4" fill="none" stroke="#5f605b" stroke-width="1.7"/>
<line x1="331.2" y1="427.2" x2="350.8" y2="430.6" stroke="#16171a" stroke-width="1.4" opacity="0.7"/><line x1="330.6" y1="426.0" x2="350.2" y2="429.4" stroke="#767772" stroke-width="1.4"/><rect x="204.5" y="388.5" width="11" height="4" rx="1.5" fill="#a81e22"/><path d="M266.2,397.0 V387.7 Q266.2,385.2 268.7,385.2 H290.0 Q292.5,385.2 292.5,387.7 V397.0 H287.5 V389.0 H271.2 V397.0 Z" fill="#151517"/><line x1="44.8" y1="404.7" x2="67.1" y2="415.9" stroke="#777872" stroke-width="4.6"/><line x1="49.8" y1="449.4" x2="70.8" y2="464.2" stroke="#777872" stroke-width="4.6"/><line x1="61" y1="415.9" x2="61" y2="455.5" stroke="#767772" stroke-width="2"/><polyline points="64.7,417.1 80.8,430.8 64.7,451.8" fill="none" stroke="#767772" stroke-width="1.4"/><line x1="80.8" y1="430.8" x2="125" y2="422.1" stroke="#767772" stroke-width="2.4"/><circle cx="69" cy="417.5" r="2.8" fill="#1a1a1c"/><circle cx="70.5" cy="463.8" r="3.4" fill="#1a1a1c"/></g>
<g id="t4"><polygon points="597.6,463.6 426.5,464.5 424.9,464.7 423.4,465.3 422.1,466.2 421.1,467.4 420.5,468.8 420.3,470.2 420.3,516.2 420.5,517.6 421.1,519.0 422.1,520.2 423.4,521.1 424.9,521.7 426.5,521.9 597.6,521.3" fill="#2e2f33"/>
<polygon points="596.7,464.8 426.5,465.6 423.0,470.2 423.0,516.2 426.5,520.7 596.7,520.1" fill="url(#rim5)"/>
<polygon points="594.1,470.5 432.7,471.3 432.7,516.1 594.1,515.5" fill="url(#tex5)"/>
<line x1="594.7" y1="469.1" x2="429.8" y2="470.0" stroke="#16171a" stroke-width="3.9" opacity="0.7"/><line x1="594.1" y1="467.9" x2="429.2" y2="468.8" stroke="#767772" stroke-width="3.9"/>
<line x1="594.7" y1="519.3" x2="429.8" y2="519.9" stroke="#16171a" stroke-width="3.9" opacity="0.7"/><line x1="594.1" y1="518.1" x2="429.2" y2="518.7" stroke="#767772" stroke-width="3.9"/>
<line x1="516.6" y1="469.2" x2="516.6" y2="519.9" stroke="#16171a" stroke-width="3.9" opacity="0.7"/><line x1="516.0" y1="468.0" x2="516.0" y2="518.7" stroke="#767772" stroke-width="3.9"/>
<line x1="436.9" y1="469.6" x2="436.9" y2="520.2" stroke="#16171a" stroke-width="3.9" opacity="0.7"/><line x1="436.3" y1="468.4" x2="436.3" y2="519.0" stroke="#767772" stroke-width="3.9"/><polygon points="596.8,463.6 768.3,462.8 769.9,463.0 771.4,463.6 772.7,464.5 773.7,465.7 774.3,467.1 774.5,468.6 774.5,515.0 774.3,516.5 773.7,517.9 772.7,519.1 771.4,520.0 769.9,520.6 768.3,520.8 596.8,521.3" fill="#2e2f33"/>
<polygon points="597.7,464.8 768.3,464.0 771.8,468.6 771.8,515.0 768.3,519.7 597.7,520.1" fill="url(#rim6)"/>
<polygon points="600.4,470.5 762.1,469.8 762.1,515.0 600.4,515.5" fill="url(#tex6)"/>
<line x1="601.0" y1="469.1" x2="766.2" y2="468.4" stroke="#16171a" stroke-width="3.9" opacity="0.7"/><line x1="600.4" y1="467.9" x2="765.6" y2="467.2" stroke="#767772" stroke-width="3.9"/>
<line x1="601.0" y1="519.3" x2="766.2" y2="518.8" stroke="#16171a" stroke-width="3.9" opacity="0.7"/><line x1="600.4" y1="518.1" x2="765.6" y2="517.6" stroke="#767772" stroke-width="3.9"/>
<line x1="677.4" y1="468.5" x2="677.4" y2="519.4" stroke="#16171a" stroke-width="3.9" opacity="0.7"/><line x1="676.8" y1="467.3" x2="676.8" y2="518.2" stroke="#767772" stroke-width="3.9"/>
<line x1="759.1" y1="468.1" x2="759.1" y2="519.1" stroke="#16171a" stroke-width="3.9" opacity="0.7"/><line x1="758.5" y1="466.9" x2="758.5" y2="517.9" stroke="#767772" stroke-width="3.9"/><line x1="596.7" y1="470" x2="596.7" y2="520" stroke="#6c6d67" stroke-width="4.2"/><rect x="593.7" y="466.2" width="7" height="4.1" rx="1" fill="#c0262b"/><rect x="594" y="472.5" width="4" height="4" fill="#9a9b98"/><path d="M672.3,468 Q673,452.8 683.5,452.5 Q694,452.8 695,468" fill="none" stroke="#151517" stroke-width="3.2"/><rect x="669.5" y="461" width="5.5" height="9" rx="1" fill="#151517"/><rect x="692.2" y="461" width="5.5" height="9" rx="1" fill="#151517"/><line x1="433.7" y1="472.8" x2="407" y2="479.8" stroke="#777872" stroke-width="4.6"/><line x1="433.7" y1="513.7" x2="408" y2="523.2" stroke="#777872" stroke-width="4.6"/><line x1="411.7" y1="481" x2="411.7" y2="521.2" stroke="#767772" stroke-width="2"/><polyline points="421.8,481 442.6,495.5 420.3,517.5" fill="none" stroke="#767772" stroke-width="1.4"/><line x1="442.6" y1="495.7" x2="500.6" y2="494.4" stroke="#767772" stroke-width="2.4"/><circle cx="407.3" cy="480.6" r="3.3" fill="#17171a"/><circle cx="408.4" cy="523.4" r="3.3" fill="#17171a"/><line x1="760.3" y1="472" x2="786.5" y2="479.4" stroke="#777872" stroke-width="4.6"/><line x1="761" y1="512.9" x2="785.6" y2="521.8" stroke="#777872" stroke-width="4.6"/><line x1="782.2" y1="480" x2="782.2" y2="518.8" stroke="#767772" stroke-width="2"/><polyline points="769.2,480.1 749.9,496.2 763.3,512.9" fill="none" stroke="#767772" stroke-width="1.4"/><line x1="749.9" y1="495.8" x2="680" y2="492" stroke="#767772" stroke-width="2.4"/><line x1="600" y1="480" x2="620" y2="496" stroke="#767772" stroke-width="1.4"/><line x1="600" y1="511" x2="620" y2="496" stroke="#767772" stroke-width="1.4"/><line x1="620" y1="496" x2="680" y2="492" stroke="#767772" stroke-width="2.4"/><circle cx="787" cy="479.4" r="3.3" fill="#17171a"/><circle cx="786" cy="522.2" r="3.3" fill="#17171a"/><circle cx="595.3" cy="521.5" r="3" fill="#1a1a1c"/></g>

<g id="bench">
<polygon points="96,745 250,741 600,740 724,740 726,763 600,766 250,767 96,764" fill="url(#shg)" filter="url(#blur2)"/>
<g stroke-linecap="butt" stroke="#4a4b4d">
<line x1="213.6" y1="626" x2="141.7" y2="663.4" stroke-width="3.2"/>
<line x1="141.7" y1="663.4" x2="87" y2="699" stroke-width="6"/>
<line x1="141.7" y1="663.4" x2="96" y2="685" stroke-width="4.5"/>
<line x1="287" y1="626" x2="363" y2="663.6" stroke-width="3.2"/>
<line x1="363" y1="663.6" x2="414" y2="699" stroke-width="6"/>
<line x1="363" y1="663.6" x2="413" y2="680" stroke-width="4.5"/>
<line x1="597" y1="626" x2="674.5" y2="663.7" stroke-width="3.2"/>
<line x1="674.5" y1="663.7" x2="730" y2="698.5" stroke-width="6"/>
<line x1="674.5" y1="663.7" x2="720" y2="683" stroke-width="4.5"/>
<line x1="86" y1="718" x2="95" y2="706" stroke-width="2"/>
<line x1="721" y1="706" x2="730" y2="718" stroke-width="2"/>
</g>
<rect x="82.2" y="624" width="6.2" height="136" fill="url(#legg)"/>
<rect x="92.6" y="624" width="5.8" height="120" fill="url(#legg)"/>
<rect x="411.3" y="624" width="7.6" height="136" fill="url(#legg)"/>
<rect x="717.1" y="624" width="6.5" height="118" fill="url(#legg)"/>
<rect x="726.6" y="624" width="7.6" height="135" fill="url(#legg)"/>
<circle cx="141.7" cy="663.4" r="2" fill="#a5a6a8"/>
<circle cx="363" cy="663.6" r="2" fill="#a5a6a8"/>
<circle cx="674.5" cy="663.7" r="2" fill="#a5a6a8"/>
<circle cx="85.9" cy="699.3" r="1.2" fill="#b5b6b8"/>
<circle cx="95.4" cy="685" r="1.2" fill="#b5b6b8"/>
<circle cx="415.3" cy="699.3" r="1.2" fill="#b5b6b8"/>
<circle cx="730.8" cy="698.7" r="1.2" fill="#b5b6b8"/>
<circle cx="720.4" cy="683.5" r="1.2" fill="#b5b6b8"/>
<rect x="82" y="754" width="6.4" height="10" rx="1" fill="#161618"/>
<rect x="92.6" y="738.5" width="5.8" height="9" rx="1" fill="#161618"/>
<rect x="412" y="754" width="6.8" height="10" rx="1" fill="#161618"/>
<rect x="717.3" y="736" width="6.3" height="9.5" rx="1" fill="#161618"/>
<rect x="727.6" y="752.7" width="6.6" height="10" rx="1" fill="#161618"/>
<path d="M410,624 H421 L419,629 H412 Z" fill="#3a3b3d"/>
<path d="M60.6,612 Q60.6,609.5 63,609.5 H767.3 Q769.7,609.5 769.7,612 V621.5 Q769.7,624.8 766.5,624.8 H63.8 Q60.6,624.8 60.6,621.5 Z" fill="url(#bfront)"/>
<path d="M61,610.3 L75.5,592.3 Q76.5,591.3 78.5,591.3 H751.5 Q753.5,591.3 754.5,592.3 L769.4,608.8 Q769.4,610.5 767,610.5 H63 Q60.6,610.5 61,610.3 Z" fill="url(#btop)"/>
<rect x="62" y="610.3" width="706" height="1" fill="#5f6165"/>
<rect x="62" y="611.4" width="706" height="1.6" fill="#7b7d81"/>
<rect x="414.6" y="590.5" width="1.5" height="34.5" fill="#45474a"/>
</g>


<path d="M363,191.5 C385,188 405,193 414.7,203.4 L421,199 L419,222.2 L396.3,219.6 L399.5,216.5 C390,209 375,208 363,210 Z" fill="url(#fadeR)"/>
<path d="M387.4,319.1 C368,319 348,327 337,340.2 L331.4,337.3 L338.3,359.6 L360.1,351.4 L356.2,349.2 C363,342 375,338 387.4,338.2 Z" fill="url(#fadeL)"/>
<path d="M449.9,388.9 C472,387 490,397 499,410.2 L505.9,406.9 L498.7,429 L476.7,420.8 L481.1,418.6 C472,410 462,406 449.9,406.7 Z" fill="url(#fadeR)"/>
<path d="M370.4,511.9 C351,512 331,520 318.4,533 L312.7,530.3 L319.9,552.1 L341.9,544.1 L337.5,542 C344,535 356,530.5 370.4,530.3 Z" fill="url(#fadeL)"/>

<circle cx="319.30" cy="182.70" r="17.3" fill="#338207"/>
<g transform="translate(319.30,182.70)"><path d="M-4.8,-8.7 H3.7 V10.6 H-0.7 V-5.3 H-4.8 Z" fill="#fff"/></g>
<circle cx="506.15" cy="244.40" r="17.3" fill="#338207"/>
<g transform="translate(506.15,244.40)"><path d="M-4.7,-4.0 C-3.8,-6.3 -1.6,-7.4 0.9,-7.4 C3.9,-7.4 5.8,-5.6 5.8,-3.3 C5.8,-1.9 5.2,-0.8 3.8,0.6 L-4.2,8.95 H8.85" fill="none" stroke="#fff" stroke-width="3.6" stroke-miterlimit="8"/></g>
<circle cx="319.05" cy="385.15" r="17.3" fill="#338207"/>
<g transform="translate(319.05,385.15)"><path d="M-6.25,-6.55 H5.3 L-0.6,-0.2 H0.8 C3.6,-0.2 5.5,1.7 5.5,4.2 C5.5,6.9 3.4,8.7 0.5,8.7 C-2.0,8.7 -4.2,7.8 -5.5,6.2" fill="none" stroke="#fff" stroke-width="3.6" stroke-miterlimit="8"/></g>
<circle cx="541.75" cy="455.95" r="17.3" fill="#338207"/>
<g transform="translate(541.75,455.95)"><path d="M1.2,-7.4 L-5.1,3.3 H8.9 M3.7,-1.7 V9.8" fill="none" stroke="#fff" stroke-width="3.7" stroke-miterlimit="8"/></g>
<circle cx="283.95" cy="579.60" r="17.3" fill="#338207"/>
<g transform="translate(283.95,579.60)"><path d="M7.6,-7.75 H-3.4 V-0.6 C-2.2,-1.3 -0.6,-1.6 1.0,-1.6 C4.3,-1.6 6.3,0.5 6.3,3.3 C6.3,6.2 4.1,8.0 0.8,8.0 C-1.6,8.0 -3.6,7.1 -4.8,5.6" fill="none" stroke="#fff" stroke-width="3.6" stroke-miterlimit="8"/></g>
</svg>
<div class="w ti" style="left:128.28px;top:43.1px;transform:scaleX(1.0615)">Easy</div>
<div class="w ti" style="left:255.70px;top:43.1px;transform:scaleX(1.1952)">to</div>
<div class="w ti" style="left:320.44px;top:43.1px;transform:scaleX(1.0802)">Fold</div>
<div class="w ti" style="left:441.30px;top:43.1px;transform:scaleX(1.1205)">and</div>
<div class="w ti" style="left:551.81px;top:43.1px;transform:scaleX(1.0946)">Open</div>
<div class="w su" style="left:155.54px;top:104.8px;transform:scaleX(1.2296)">No</div>
<div class="w su" style="left:201.50px;top:104.8px;transform:scaleX(1.1037)">Tools</div>
<div class="w su" style="left:267.44px;top:104.8px;transform:scaleX(1.1776)">Required,</div>
<div class="w su" style="left:392.68px;top:104.8px;transform:scaleX(1.2209)">Quick-folding</div>
<div class="w su" style="left:565.52px;top:104.8px;transform:scaleX(1.1414)">Design</div>
</body></html>
